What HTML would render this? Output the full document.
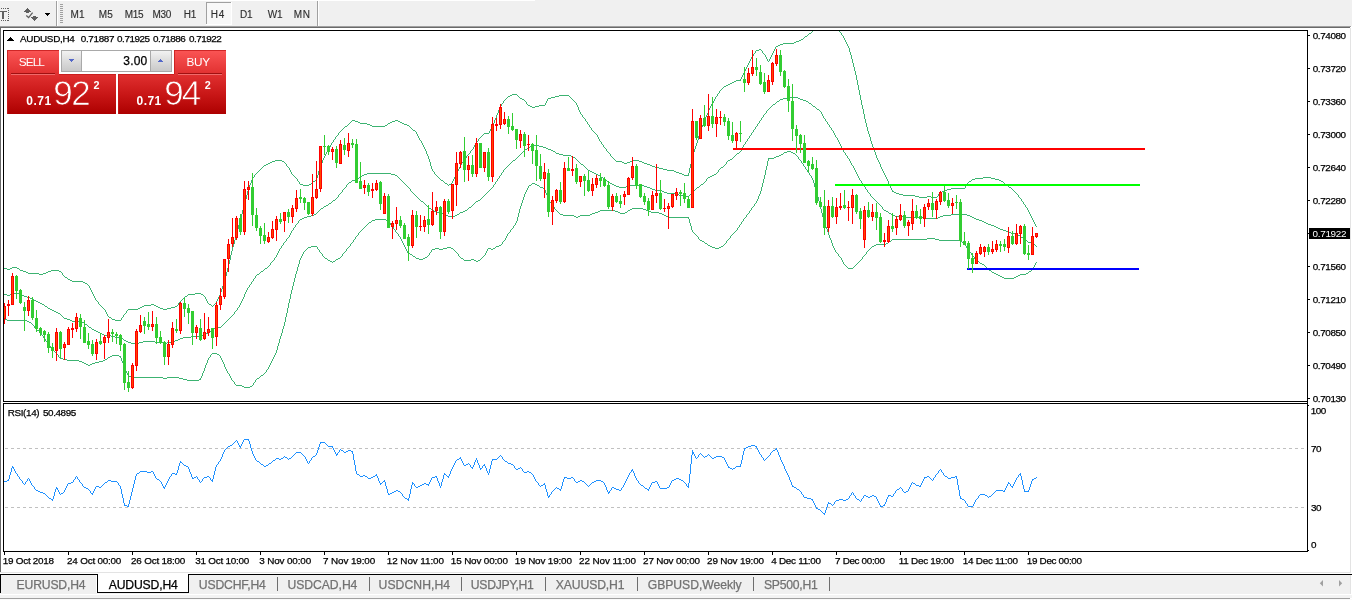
<!DOCTYPE html>
<html><head><meta charset="utf-8"><title>AUDUSD,H4</title>
<style>
*{box-sizing:border-box;margin:0;padding:0}
html,body{width:1352px;height:600px;overflow:hidden;background:#fff}
svg{display:block;position:absolute;left:0;top:0}
svg text{font-family:'Liberation Sans',sans-serif;white-space:pre}
</style></head><body>
<svg width="1352" height="600" viewBox="0 0 1352 600" shape-rendering="crispEdges">
<defs>
<clipPath id="cp"><rect x="4" y="31" width="1303" height="520"/></clipPath>
<linearGradient id="rg" x1="0" y1="50" x2="0" y2="114" gradientUnits="userSpaceOnUse">
<stop offset="0" stop-color="#fb5555"/><stop offset="0.36" stop-color="#e23232"/><stop offset="0.7" stop-color="#c81616"/><stop offset="1" stop-color="#ad0000"/></linearGradient>
<linearGradient id="bt" x1="0" y1="0" x2="0" y2="1"><stop offset="0" stop-color="#f2f2f2"/><stop offset="0.5" stop-color="#dcdcdc"/><stop offset="1" stop-color="#c9c9c9"/></linearGradient>
</defs>
<rect width="1352" height="600" fill="#fff"/>
<!-- toolbar -->
<rect x="0" y="0" width="1352" height="26" fill="#f0f0f0"/>
<rect x="0" y="0" width="535" height="1" fill="#fff"/>
<rect x="0" y="26" width="1351" height="1" fill="#a0a0a0"/>
<rect x="0" y="27" width="1350" height="1" fill="#696969"/>
<rect x="0" y="28" width="1" height="545" fill="#696969"/>
<rect x="1350" y="28" width="1" height="545" fill="#e3e3e3"/>
<rect x="1351" y="28" width="1" height="545" fill="#fff"/>
<rect x="0" y="572" width="1350" height="1" fill="#e3e3e3"/>
<path d="M56 1h1v25h-1zM317 1h1v25h-1z" fill="#a0a0a0"/>
<path d="M57 1h1v25h-1zM318 1h1v25h-1z" fill="#fff"/>
<path d="M60 4h3v1h-3zM60 6h3v1h-3zM60 8h3v1h-3zM60 10h3v1h-3zM60 12h3v1h-3zM60 14h3v1h-3zM60 16h3v1h-3zM60 18h3v1h-3zM60 20h3v1h-3zM60 22h3v1h-3z" fill="#a0a0a0"/>
<rect x="206" y="2" width="26" height="23" fill="#f8f8f8"/>
<path d="M206 2h25v1h-25zM206 2h1v22h-1z" fill="#a0a0a0"/>
<path d="M206 24h26v1h-26zM231 2h1v23h-1z" fill="#fff"/>
<g fill="#606060">
<path d="M0 11h7v1h-7zM2 12h2v7h-2z"/>
<path d="M1 8h1v1h-1zM1 20h1v1h-1zM3 8h1v1h-1zM3 20h1v1h-1zM5 8h1v1h-1zM5 20h1v1h-1zM7 8h1v1h-1zM7 20h1v1h-1zM8 8h1v1h-1zM8 10h1v1h-1zM8 12h1v1h-1zM8 14h1v1h-1zM8 16h1v1h-1zM8 18h1v1h-1zM8 20h1v1h-1z"/>
<path d="M27 8h1v1h-1zM26 9h3v1h-3zM25 10h5v1h-5zM24 11h7v1h-7zM26 12h3v1h-3z"/>
<path d="M33 16h3v1h-3zM31 17h7v1h-7zM32 18h5v1h-5zM33 19h3v1h-3zM34 20h1v1h-1z"/>
</g>
<path d="M26.3 15.6L28.6 17.6L32.6 12.6" fill="none" stroke="#606060" stroke-width="1.3" shape-rendering="auto"/>
<path d="M45 13h5v1h-5zM46 14h3v1h-3zM47 15h1v1h-1z" fill="#000"/>
<!-- chart -->
<g clip-path="url(#cp)">
<path d="M812 31h1v1h-1zM839 31h1v1h-1zM811 32h1v1h-1zM840 32h1v1h-1zM809 33h2v1h-2zM841 33h1v2h-1zM808 34h1v1h-1zM807 35h1v1h-1zM842 35h1v1h-1zM805 36h2v1h-2zM843 36h1v2h-1zM804 37h1v1h-1zM803 38h1v1h-1zM844 38h1v2h-1zM801 39h2v1h-2zM799 40h2v1h-2zM845 40h1v2h-1zM796 41h3v1h-3zM794 42h2v1h-2zM846 42h1v2h-1zM783 43h11v1h-11zM780 44h3v1h-3zM847 44h1v2h-1zM778 45h2v1h-2zM776 46h2v1h-2zM848 46h1v2h-1zM775 47h1v2h-1zM849 48h1v4h-1zM759 49h2v1h-2zM774 49h1v2h-1zM756 50h3v1h-3zM761 50h1v1h-1zM755 51h1v2h-1zM762 51h1v2h-1zM773 51h1v2h-1zM850 52h1v3h-1zM754 53h1v1h-1zM763 53h1v1h-1zM772 53h1v2h-1zM753 54h1v2h-1zM764 54h1v1h-1zM765 55h1v2h-1zM771 55h1v2h-1zM851 55h1v4h-1zM752 56h1v1h-1zM751 57h1v2h-1zM766 57h1v2h-1zM770 57h1v2h-1zM750 59h1v2h-1zM767 59h1v2h-1zM769 59h1v2h-1zM852 59h1v4h-1zM749 61h1v2h-1zM768 61h1v1h-1zM748 63h1v2h-1zM853 63h1v4h-1zM747 65h1v2h-1zM746 67h1v2h-1zM854 67h1v4h-1zM745 69h1v2h-1zM744 71h1v2h-1zM855 71h1v4h-1zM743 73h1v2h-1zM742 75h1v2h-1zM856 75h1v5h-1zM741 77h1v2h-1zM740 79h1v2h-1zM736 80h4v1h-4zM857 80h1v5h-1zM734 81h2v1h-2zM732 82h2v1h-2zM730 83h2v1h-2zM728 84h2v1h-2zM726 85h2v1h-2zM858 85h1v5h-1zM724 86h2v1h-2zM723 87h1v1h-1zM722 88h1v1h-1zM721 89h1v1h-1zM720 90h1v1h-1zM859 90h1v5h-1zM719 91h1v2h-1zM718 93h1v1h-1zM512 94h5v1h-5zM717 94h1v2h-1zM510 95h2v1h-2zM517 95h1v1h-1zM559 95h10v1h-10zM860 95h1v5h-1zM508 96h2v1h-2zM518 96h1v1h-1zM555 96h4v1h-4zM569 96h1v1h-1zM716 96h1v1h-1zM507 97h1v1h-1zM519 97h1v1h-1zM551 97h4v1h-4zM570 97h1v1h-1zM715 97h1v2h-1zM506 98h1v1h-1zM520 98h2v1h-2zM548 98h3v1h-3zM571 98h1v1h-1zM505 99h1v1h-1zM522 99h2v1h-2zM547 99h1v2h-1zM572 99h1v1h-1zM714 99h1v2h-1zM504 100h1v1h-1zM524 100h1v1h-1zM573 100h1v1h-1zM861 100h1v5h-1zM503 101h1v2h-1zM525 101h1v1h-1zM546 101h1v2h-1zM574 101h1v1h-1zM713 101h1v2h-1zM526 102h1v2h-1zM575 102h1v1h-1zM502 103h1v1h-1zM545 103h1v2h-1zM576 103h1v2h-1zM712 103h1v1h-1zM501 104h1v2h-1zM527 104h1v1h-1zM711 104h1v2h-1zM528 105h2v1h-2zM539 105h6v1h-6zM577 105h1v2h-1zM862 105h1v4h-1zM500 106h1v2h-1zM530 106h2v1h-2zM535 106h4v1h-4zM710 106h1v2h-1zM532 107h3v1h-3zM578 107h1v3h-1zM499 108h1v2h-1zM709 108h1v2h-1zM863 109h1v5h-1zM498 110h1v3h-1zM579 110h1v2h-1zM708 110h1v3h-1zM580 112h1v2h-1zM497 113h1v2h-1zM707 113h1v2h-1zM581 114h1v1h-1zM864 114h1v5h-1zM496 115h1v3h-1zM582 115h1v2h-1zM706 115h1v2h-1zM583 117h1v1h-1zM705 117h1v2h-1zM495 118h1v2h-1zM584 118h1v1h-1zM585 119h1v2h-1zM704 119h1v3h-1zM865 119h1v4h-1zM352 120h3v1h-3zM395 120h3v1h-3zM494 120h1v3h-1zM351 121h1v1h-1zM355 121h3v1h-3zM392 121h3v1h-3zM398 121h2v1h-2zM586 121h1v1h-1zM350 122h1v1h-1zM358 122h2v1h-2zM390 122h2v1h-2zM400 122h2v1h-2zM587 122h1v2h-1zM703 122h1v3h-1zM349 123h1v1h-1zM360 123h7v1h-7zM388 123h2v1h-2zM402 123h2v1h-2zM493 123h1v2h-1zM866 123h1v4h-1zM348 124h1v1h-1zM367 124h3v1h-3zM387 124h1v1h-1zM404 124h3v1h-3zM588 124h1v1h-1zM347 125h1v1h-1zM370 125h2v1h-2zM385 125h2v1h-2zM407 125h2v1h-2zM492 125h1v2h-1zM589 125h1v2h-1zM702 125h1v2h-1zM345 126h2v1h-2zM372 126h13v1h-13zM409 126h1v1h-1zM344 127h1v1h-1zM410 127h1v1h-1zM491 127h1v2h-1zM590 127h1v1h-1zM701 127h1v3h-1zM867 127h1v4h-1zM343 128h1v1h-1zM411 128h1v1h-1zM591 128h1v2h-1zM342 129h1v1h-1zM412 129h1v1h-1zM490 129h1v2h-1zM341 130h1v1h-1zM413 130h2v1h-2zM592 130h1v1h-1zM700 130h1v3h-1zM340 131h1v1h-1zM415 131h1v1h-1zM489 131h1v2h-1zM593 131h1v1h-1zM868 131h1v3h-1zM339 132h1v1h-1zM416 132h1v2h-1zM594 132h1v1h-1zM338 133h1v2h-1zM484 133h5v1h-5zM595 133h1v1h-1zM699 133h1v3h-1zM417 134h1v2h-1zM483 134h1v1h-1zM596 134h1v1h-1zM869 134h1v3h-1zM337 135h1v1h-1zM482 135h1v1h-1zM597 135h1v2h-1zM336 136h1v1h-1zM418 136h1v2h-1zM481 136h1v1h-1zM698 136h1v4h-1zM335 137h1v2h-1zM480 137h1v1h-1zM598 137h1v2h-1zM870 137h1v4h-1zM419 138h1v2h-1zM479 138h1v1h-1zM334 139h1v1h-1zM478 139h1v2h-1zM599 139h1v2h-1zM333 140h1v2h-1zM420 140h1v1h-1zM697 140h1v3h-1zM421 141h1v2h-1zM477 141h1v1h-1zM600 141h1v1h-1zM871 141h1v3h-1zM332 142h1v1h-1zM476 142h1v1h-1zM601 142h1v2h-1zM331 143h1v2h-1zM422 143h1v2h-1zM475 143h1v2h-1zM696 143h1v3h-1zM602 144h1v1h-1zM872 144h1v3h-1zM330 145h1v2h-1zM423 145h1v2h-1zM474 145h1v2h-1zM603 145h1v2h-1zM695 146h1v3h-1zM329 147h1v2h-1zM424 147h1v2h-1zM473 147h1v2h-1zM604 147h1v1h-1zM873 147h1v3h-1zM605 148h1v1h-1zM328 149h1v1h-1zM425 149h1v2h-1zM472 149h1v1h-1zM606 149h1v2h-1zM694 149h1v3h-1zM327 150h1v2h-1zM471 150h1v1h-1zM874 150h1v2h-1zM426 151h1v3h-1zM470 151h1v2h-1zM607 151h1v1h-1zM326 152h1v2h-1zM608 152h1v1h-1zM693 152h1v3h-1zM875 152h1v3h-1zM469 153h1v1h-1zM609 153h1v1h-1zM325 154h1v2h-1zM427 154h1v2h-1zM468 154h1v1h-1zM610 154h1v2h-1zM467 155h1v1h-1zM692 155h1v4h-1zM876 155h1v3h-1zM324 156h1v2h-1zM428 156h1v3h-1zM466 156h1v2h-1zM611 156h1v1h-1zM612 157h1v1h-1zM323 158h1v2h-1zM465 158h1v1h-1zM613 158h1v1h-1zM877 158h1v2h-1zM429 159h1v3h-1zM464 159h1v1h-1zM614 159h1v1h-1zM691 159h1v5h-1zM275 160h7v1h-7zM322 160h1v3h-1zM463 160h1v2h-1zM615 160h1v1h-1zM632 160h7v1h-7zM878 160h1v2h-1zM272 161h3v1h-3zM282 161h2v1h-2zM616 161h6v1h-6zM630 161h2v1h-2zM639 161h3v1h-3zM270 162h2v1h-2zM284 162h1v1h-1zM430 162h1v4h-1zM462 162h1v1h-1zM622 162h2v1h-2zM627 162h3v1h-3zM642 162h2v1h-2zM879 162h1v2h-1zM268 163h2v1h-2zM285 163h1v1h-1zM321 163h1v2h-1zM461 163h1v2h-1zM624 163h3v1h-3zM644 163h3v1h-3zM266 164h2v1h-2zM286 164h1v2h-1zM647 164h3v1h-3zM690 164h1v4h-1zM880 164h1v3h-1zM264 165h2v1h-2zM320 165h1v3h-1zM460 165h1v2h-1zM650 165h2v1h-2zM263 166h1v1h-1zM287 166h1v1h-1zM431 166h1v3h-1zM652 166h3v1h-3zM262 167h1v1h-1zM288 167h1v1h-1zM459 167h1v2h-1zM655 167h4v1h-4zM881 167h1v2h-1zM261 168h1v1h-1zM289 168h1v2h-1zM319 168h1v3h-1zM659 168h4v1h-4zM689 168h1v5h-1zM260 169h1v1h-1zM432 169h1v2h-1zM458 169h1v2h-1zM663 169h4v1h-4zM882 169h1v2h-1zM259 170h1v1h-1zM290 170h1v2h-1zM667 170h7v1h-7zM258 171h1v1h-1zM318 171h1v4h-1zM433 171h1v1h-1zM457 171h1v2h-1zM674 171h2v1h-2zM883 171h1v2h-1zM257 172h1v1h-1zM291 172h1v2h-1zM434 172h1v2h-1zM676 172h3v1h-3zM256 173h1v1h-1zM456 173h1v2h-1zM679 173h3v1h-3zM688 173h1v3h-1zM884 173h1v2h-1zM255 174h1v1h-1zM292 174h1v1h-1zM435 174h1v1h-1zM682 174h2v1h-2zM254 175h1v2h-1zM293 175h1v1h-1zM317 175h1v3h-1zM436 175h1v1h-1zM455 175h1v2h-1zM684 175h4v1h-4zM885 175h1v2h-1zM294 176h1v1h-1zM437 176h1v1h-1zM253 177h1v1h-1zM295 177h1v1h-1zM438 177h1v1h-1zM454 177h1v2h-1zM886 177h1v2h-1zM983 177h8v1h-8zM252 178h1v2h-1zM296 178h1v1h-1zM316 178h1v2h-1zM439 178h1v1h-1zM975 178h8v1h-8zM991 178h4v1h-4zM297 179h1v2h-1zM440 179h1v1h-1zM453 179h1v2h-1zM887 179h1v2h-1zM972 179h3v1h-3zM995 179h4v1h-4zM251 180h1v3h-1zM315 180h1v1h-1zM441 180h2v1h-2zM971 180h1v1h-1zM999 180h2v1h-2zM298 181h1v1h-1zM313 181h2v1h-2zM443 181h1v1h-1zM452 181h1v2h-1zM888 181h1v3h-1zM969 181h2v1h-2zM1001 181h2v1h-2zM299 182h1v2h-1zM312 182h1v1h-1zM444 182h1v1h-1zM968 182h1v1h-1zM1003 182h1v1h-1zM250 183h1v2h-1zM311 183h1v1h-1zM445 183h2v1h-2zM451 183h1v1h-1zM967 183h1v2h-1zM1004 183h1v1h-1zM300 184h3v1h-3zM309 184h2v1h-2zM447 184h1v1h-1zM449 184h2v1h-2zM889 184h1v2h-1zM1005 184h2v1h-2zM249 185h1v3h-1zM303 185h6v1h-6zM448 185h1v1h-1zM966 185h1v1h-1zM1007 185h1v1h-1zM890 186h1v2h-1zM965 186h1v2h-1zM1008 186h1v1h-1zM1009 187h2v1h-2zM248 188h1v3h-1zM891 188h1v2h-1zM951 188h14v1h-14zM1011 188h1v1h-1zM947 189h4v1h-4zM1012 189h1v1h-1zM892 190h1v2h-1zM944 190h3v1h-3zM1013 190h1v1h-1zM247 191h1v4h-1zM893 191h1v1h-1zM942 191h2v1h-2zM1014 191h1v1h-1zM894 192h2v1h-2zM940 192h2v1h-2zM1015 192h1v1h-1zM896 193h3v1h-3zM939 193h1v1h-1zM1016 193h1v1h-1zM899 194h4v1h-4zM938 194h1v2h-1zM1017 194h1v1h-1zM246 195h1v4h-1zM903 195h12v1h-12zM1018 195h1v2h-1zM915 196h4v1h-4zM927 196h4v1h-4zM937 196h1v1h-1zM919 197h8v1h-8zM931 197h6v1h-6zM1019 197h1v1h-1zM1020 198h1v1h-1zM245 199h1v4h-1zM1021 199h1v2h-1zM1022 201h1v1h-1zM1023 202h1v2h-1zM244 203h1v3h-1zM1024 204h1v1h-1zM1025 205h1v2h-1zM243 206h1v4h-1zM1026 207h1v1h-1zM1027 208h1v2h-1zM242 210h1v4h-1zM1028 210h1v2h-1zM1029 212h1v2h-1zM241 214h1v4h-1zM1030 214h1v2h-1zM1031 216h1v2h-1zM240 218h1v3h-1zM1032 218h1v2h-1zM1033 220h1v2h-1zM239 221h1v4h-1zM1034 222h1v2h-1zM1035 224h1v2h-1zM238 225h1v4h-1zM1036 226h1v1h-1zM237 229h1v4h-1zM236 233h1v4h-1zM235 237h1v3h-1zM234 240h1v4h-1zM233 244h1v3h-1zM232 247h1v4h-1zM231 251h1v4h-1zM230 255h1v5h-1zM229 260h1v4h-1zM228 264h1v4h-1zM12 267h5v1h-5zM4 268h3v1h-3zM10 268h2v1h-2zM17 268h2v1h-2zM227 268h1v4h-1zM7 269h3v1h-3zM19 269h1v1h-1zM20 270h3v1h-3zM51 270h8v1h-8zM23 271h3v1h-3zM48 271h3v1h-3zM59 271h2v1h-2zM26 272h2v1h-2zM46 272h2v1h-2zM61 272h1v1h-1zM226 272h1v4h-1zM28 273h11v1h-11zM43 273h3v1h-3zM62 273h1v2h-1zM39 274h4v1h-4zM63 275h1v1h-1zM64 276h1v1h-1zM225 276h1v4h-1zM65 277h2v1h-2zM67 278h1v1h-1zM68 279h2v1h-2zM70 280h2v1h-2zM224 280h1v3h-1zM72 281h11v1h-11zM83 282h2v1h-2zM85 283h2v1h-2zM223 283h1v3h-1zM87 284h1v1h-1zM88 285h1v1h-1zM89 286h1v2h-1zM222 286h1v3h-1zM90 288h1v2h-1zM221 289h1v3h-1zM91 290h1v2h-1zM92 292h1v2h-1zM220 292h1v3h-1zM195 293h6v1h-6zM93 294h1v2h-1zM188 294h7v1h-7zM201 294h2v1h-2zM187 295h1v1h-1zM203 295h1v1h-1zM219 295h1v2h-1zM94 296h1v2h-1zM185 296h2v1h-2zM204 296h1v1h-1zM184 297h1v1h-1zM205 297h1v2h-1zM218 297h1v2h-1zM95 298h1v2h-1zM183 298h1v1h-1zM182 299h1v1h-1zM206 299h1v2h-1zM217 299h1v2h-1zM96 300h1v1h-1zM181 300h1v1h-1zM97 301h1v1h-1zM180 301h1v1h-1zM207 301h1v2h-1zM216 301h1v2h-1zM98 302h1v2h-1zM179 302h1v1h-1zM178 303h1v2h-1zM208 303h1v1h-1zM215 303h1v1h-1zM99 304h1v1h-1zM151 304h3v1h-3zM209 304h2v1h-2zM214 304h1v1h-1zM100 305h1v1h-1zM144 305h7v1h-7zM154 305h2v1h-2zM177 305h1v1h-1zM211 305h1v1h-1zM213 305h1v1h-1zM101 306h1v1h-1zM142 306h2v1h-2zM156 306h2v1h-2zM175 306h2v1h-2zM212 306h1v1h-1zM102 307h1v1h-1zM140 307h2v1h-2zM158 307h2v1h-2zM171 307h4v1h-4zM103 308h1v1h-1zM138 308h2v1h-2zM160 308h3v1h-3zM167 308h4v1h-4zM104 309h1v1h-1zM128 309h10v1h-10zM163 309h4v1h-4zM105 310h1v2h-1zM127 310h1v1h-1zM126 311h1v2h-1zM106 312h1v2h-1zM125 313h1v1h-1zM107 314h1v2h-1zM124 314h1v1h-1zM123 315h1v2h-1zM108 316h1v1h-1zM109 317h2v1h-2zM122 317h1v1h-1zM111 318h1v1h-1zM121 318h1v2h-1zM112 319h3v1h-3zM115 320h6v1h-6z" fill="#3cb371"/>
<path d="M787 97h11v1h-11zM783 98h4v1h-4zM798 98h2v1h-2zM780 99h3v1h-3zM800 99h3v1h-3zM779 100h1v1h-1zM803 100h3v1h-3zM777 101h2v1h-2zM806 101h2v1h-2zM776 102h1v1h-1zM808 102h1v1h-1zM775 103h1v1h-1zM809 103h2v1h-2zM773 104h2v1h-2zM811 104h1v1h-1zM772 105h1v1h-1zM812 105h1v1h-1zM771 106h1v1h-1zM813 106h2v1h-2zM770 107h1v1h-1zM815 107h1v1h-1zM769 108h1v1h-1zM816 108h1v1h-1zM768 109h1v1h-1zM817 109h2v1h-2zM767 110h1v1h-1zM819 110h1v1h-1zM766 111h1v2h-1zM820 111h1v1h-1zM821 112h1v2h-1zM765 113h1v1h-1zM764 114h1v1h-1zM822 114h1v2h-1zM763 115h1v2h-1zM823 116h1v2h-1zM762 117h1v1h-1zM761 118h1v2h-1zM824 118h1v1h-1zM825 119h1v2h-1zM760 120h1v1h-1zM759 121h1v2h-1zM826 121h1v1h-1zM827 122h1v2h-1zM758 123h1v1h-1zM757 124h1v2h-1zM828 124h1v1h-1zM829 125h1v2h-1zM756 126h1v1h-1zM755 127h1v2h-1zM830 127h1v1h-1zM831 128h1v2h-1zM754 129h1v1h-1zM753 130h1v2h-1zM832 130h1v1h-1zM833 131h1v2h-1zM752 132h1v1h-1zM751 133h1v2h-1zM834 133h1v2h-1zM750 135h1v1h-1zM835 135h1v2h-1zM749 136h1v2h-1zM836 137h1v1h-1zM748 138h1v1h-1zM837 138h1v2h-1zM747 139h1v2h-1zM838 140h1v2h-1zM746 141h1v1h-1zM745 142h1v2h-1zM839 142h1v2h-1zM744 144h1v1h-1zM840 144h1v2h-1zM532 145h7v1h-7zM743 145h1v2h-1zM530 146h2v1h-2zM539 146h4v1h-4zM841 146h1v2h-1zM528 147h2v1h-2zM543 147h3v1h-3zM742 147h1v2h-1zM527 148h1v1h-1zM546 148h2v1h-2zM842 148h1v2h-1zM525 149h2v1h-2zM548 149h3v1h-3zM741 149h1v2h-1zM524 150h1v1h-1zM551 150h2v1h-2zM843 150h1v2h-1zM523 151h1v1h-1zM553 151h2v1h-2zM740 151h1v1h-1zM522 152h1v1h-1zM555 152h1v1h-1zM739 152h1v1h-1zM844 152h1v1h-1zM521 153h1v1h-1zM556 153h3v1h-3zM737 153h2v1h-2zM845 153h1v2h-1zM520 154h1v1h-1zM559 154h4v1h-4zM736 154h1v1h-1zM519 155h1v1h-1zM563 155h8v1h-8zM735 155h1v1h-1zM846 155h1v1h-1zM518 156h1v1h-1zM571 156h2v1h-2zM734 156h1v1h-1zM847 156h1v2h-1zM517 157h1v1h-1zM573 157h2v1h-2zM733 157h1v1h-1zM516 158h1v1h-1zM575 158h1v1h-1zM732 158h1v1h-1zM848 158h1v1h-1zM515 159h1v1h-1zM576 159h1v1h-1zM730 159h2v1h-2zM849 159h1v2h-1zM513 160h2v1h-2zM577 160h1v1h-1zM728 160h2v1h-2zM512 161h1v1h-1zM578 161h1v1h-1zM727 161h1v1h-1zM850 161h1v2h-1zM511 162h1v1h-1zM579 162h1v1h-1zM726 162h1v2h-1zM510 163h1v1h-1zM580 163h1v1h-1zM851 163h1v2h-1zM509 164h1v1h-1zM581 164h2v1h-2zM725 164h1v1h-1zM508 165h1v1h-1zM583 165h1v1h-1zM724 165h1v1h-1zM852 165h1v1h-1zM507 166h1v1h-1zM584 166h1v1h-1zM723 166h1v1h-1zM853 166h1v2h-1zM506 167h1v1h-1zM585 167h1v1h-1zM721 167h2v1h-2zM505 168h1v1h-1zM586 168h1v1h-1zM720 168h1v1h-1zM854 168h1v2h-1zM504 169h1v1h-1zM587 169h1v1h-1zM719 169h1v1h-1zM503 170h1v2h-1zM588 170h2v1h-2zM718 170h1v2h-1zM855 170h1v2h-1zM590 171h2v1h-2zM502 172h1v1h-1zM592 172h2v1h-2zM717 172h1v1h-1zM856 172h1v2h-1zM367 173h24v1h-24zM501 173h1v2h-1zM594 173h2v1h-2zM716 173h1v1h-1zM364 174h3v1h-3zM391 174h4v1h-4zM596 174h2v1h-2zM714 174h2v1h-2zM857 174h1v2h-1zM362 175h2v1h-2zM395 175h2v1h-2zM500 175h1v1h-1zM598 175h2v1h-2zM712 175h2v1h-2zM360 176h2v1h-2zM397 176h1v1h-1zM499 176h1v2h-1zM600 176h1v1h-1zM710 176h2v1h-2zM858 176h1v2h-1zM359 177h1v1h-1zM398 177h1v1h-1zM601 177h2v1h-2zM708 177h2v1h-2zM357 178h2v1h-2zM399 178h1v1h-1zM498 178h1v1h-1zM603 178h1v1h-1zM707 178h1v1h-1zM859 178h1v2h-1zM355 179h2v1h-2zM400 179h1v1h-1zM497 179h1v2h-1zM604 179h1v1h-1zM706 179h1v2h-1zM352 180h3v1h-3zM401 180h1v1h-1zM605 180h2v1h-2zM860 180h1v1h-1zM351 181h1v1h-1zM402 181h1v1h-1zM496 181h1v1h-1zM607 181h1v1h-1zM705 181h1v1h-1zM861 181h1v2h-1zM349 182h2v1h-2zM403 182h1v1h-1zM495 182h1v2h-1zM608 182h2v1h-2zM704 182h1v1h-1zM348 183h1v1h-1zM404 183h1v1h-1zM610 183h2v1h-2zM703 183h1v1h-1zM862 183h1v1h-1zM347 184h1v1h-1zM405 184h1v1h-1zM494 184h1v1h-1zM612 184h2v1h-2zM639 184h3v1h-3zM701 184h2v1h-2zM863 184h1v2h-1zM346 185h1v2h-1zM406 185h1v1h-1zM493 185h1v2h-1zM614 185h2v1h-2zM628 185h11v1h-11zM642 185h2v1h-2zM700 185h1v1h-1zM407 186h1v1h-1zM616 186h3v1h-3zM626 186h2v1h-2zM644 186h3v1h-3zM699 186h1v1h-1zM864 186h1v1h-1zM345 187h1v1h-1zM408 187h1v1h-1zM492 187h1v1h-1zM619 187h7v1h-7zM647 187h3v1h-3zM697 187h2v1h-2zM865 187h1v2h-1zM344 188h1v1h-1zM409 188h1v1h-1zM491 188h1v1h-1zM650 188h2v1h-2zM696 188h1v1h-1zM343 189h1v1h-1zM410 189h1v2h-1zM490 189h1v1h-1zM652 189h3v1h-3zM695 189h1v1h-1zM866 189h1v1h-1zM342 190h1v2h-1zM489 190h1v1h-1zM655 190h7v1h-7zM694 190h1v1h-1zM867 190h1v2h-1zM411 191h1v1h-1zM488 191h1v1h-1zM662 191h2v1h-2zM693 191h1v1h-1zM341 192h1v1h-1zM412 192h1v1h-1zM487 192h1v1h-1zM664 192h3v1h-3zM692 192h1v1h-1zM868 192h1v1h-1zM340 193h1v1h-1zM413 193h1v1h-1zM486 193h1v1h-1zM667 193h8v1h-8zM691 193h1v1h-1zM869 193h1v1h-1zM339 194h1v1h-1zM414 194h1v1h-1zM485 194h1v1h-1zM675 194h4v1h-4zM690 194h1v1h-1zM870 194h1v2h-1zM338 195h1v2h-1zM415 195h1v1h-1zM484 195h1v1h-1zM679 195h4v1h-4zM689 195h1v1h-1zM416 196h1v1h-1zM483 196h1v1h-1zM683 196h6v1h-6zM871 196h1v1h-1zM337 197h1v1h-1zM417 197h1v1h-1zM482 197h1v1h-1zM872 197h1v1h-1zM336 198h1v1h-1zM418 198h1v1h-1zM481 198h1v1h-1zM873 198h1v1h-1zM335 199h1v1h-1zM419 199h1v1h-1zM480 199h1v1h-1zM874 199h1v1h-1zM333 200h2v1h-2zM420 200h1v1h-1zM478 200h2v1h-2zM875 200h1v1h-1zM332 201h1v1h-1zM421 201h2v1h-2zM476 201h2v1h-2zM876 201h1v1h-1zM331 202h1v1h-1zM423 202h1v1h-1zM475 202h1v1h-1zM877 202h1v1h-1zM329 203h2v1h-2zM424 203h1v1h-1zM474 203h1v1h-1zM878 203h1v1h-1zM328 204h1v1h-1zM425 204h1v1h-1zM473 204h1v1h-1zM879 204h1v1h-1zM326 205h2v1h-2zM426 205h1v1h-1zM472 205h1v1h-1zM880 205h1v1h-1zM324 206h2v1h-2zM427 206h1v1h-1zM471 206h1v1h-1zM881 206h1v1h-1zM323 207h1v1h-1zM428 207h1v1h-1zM469 207h2v1h-2zM882 207h1v2h-1zM321 208h2v1h-2zM429 208h2v1h-2zM468 208h1v1h-1zM320 209h1v1h-1zM431 209h1v1h-1zM467 209h1v1h-1zM883 209h1v1h-1zM319 210h1v1h-1zM432 210h2v1h-2zM465 210h2v1h-2zM884 210h2v1h-2zM318 211h1v1h-1zM434 211h2v1h-2zM463 211h2v1h-2zM886 211h2v1h-2zM317 212h1v1h-1zM436 212h3v1h-3zM460 212h3v1h-3zM888 212h1v1h-1zM316 213h1v1h-1zM439 213h4v1h-4zM459 213h1v1h-1zM889 213h2v1h-2zM314 214h2v1h-2zM443 214h3v1h-3zM457 214h2v1h-2zM891 214h1v1h-1zM951 214h16v1h-16zM311 215h3v1h-3zM446 215h2v1h-2zM455 215h2v1h-2zM892 215h3v1h-3zM943 215h8v1h-8zM967 215h3v1h-3zM307 216h4v1h-4zM448 216h7v1h-7zM895 216h8v1h-8zM940 216h3v1h-3zM970 216h2v1h-2zM304 217h3v1h-3zM903 217h20v1h-20zM938 217h2v1h-2zM972 217h2v1h-2zM302 218h2v1h-2zM923 218h15v1h-15zM974 218h2v1h-2zM300 219h2v1h-2zM976 219h3v1h-3zM299 220h1v1h-1zM979 220h3v1h-3zM298 221h1v2h-1zM982 221h2v1h-2zM984 222h2v1h-2zM297 223h1v1h-1zM986 223h2v1h-2zM296 224h1v1h-1zM988 224h3v1h-3zM295 225h1v2h-1zM991 225h3v1h-3zM994 226h2v1h-2zM294 227h1v1h-1zM996 227h2v1h-2zM293 228h1v2h-1zM998 228h2v1h-2zM1000 229h3v1h-3zM292 230h1v1h-1zM1003 230h3v1h-3zM291 231h1v2h-1zM1006 231h2v1h-2zM1008 232h3v1h-3zM290 233h1v2h-1zM1011 233h4v1h-4zM1015 234h3v1h-3zM289 235h1v2h-1zM1018 235h2v1h-2zM1020 236h1v1h-1zM288 237h1v1h-1zM1021 237h2v1h-2zM287 238h1v1h-1zM1023 238h1v1h-1zM286 239h1v2h-1zM1024 239h1v1h-1zM1025 240h2v1h-2zM285 241h1v1h-1zM1027 241h1v1h-1zM284 242h1v1h-1zM1028 242h3v1h-3zM283 243h1v2h-1zM1031 243h2v1h-2zM1033 244h2v1h-2zM282 245h1v1h-1zM1035 245h1v1h-1zM281 246h1v2h-1zM1036 246h1v1h-1zM280 248h1v1h-1zM279 249h1v2h-1zM278 251h1v2h-1zM277 253h1v2h-1zM276 255h1v2h-1zM275 257h1v1h-1zM274 258h1v2h-1zM273 260h1v1h-1zM272 261h1v1h-1zM271 262h1v1h-1zM270 263h1v2h-1zM269 265h1v1h-1zM268 266h1v1h-1zM267 267h1v1h-1zM265 268h2v1h-2zM264 269h1v1h-1zM263 270h1v1h-1zM261 271h2v1h-2zM260 272h1v1h-1zM259 273h1v1h-1zM257 274h2v1h-2zM256 275h1v1h-1zM255 276h1v2h-1zM254 278h1v1h-1zM253 279h1v2h-1zM252 281h1v1h-1zM251 282h1v2h-1zM250 284h1v1h-1zM249 285h1v2h-1zM248 287h1v1h-1zM247 288h1v2h-1zM246 290h1v2h-1zM245 292h1v2h-1zM12 293h7v1h-7zM4 294h3v1h-3zM10 294h2v1h-2zM19 294h3v1h-3zM244 294h1v3h-1zM7 295h3v1h-3zM22 295h2v1h-2zM24 296h3v1h-3zM27 297h3v1h-3zM243 297h1v2h-1zM30 298h2v1h-2zM32 299h2v1h-2zM242 299h1v2h-1zM34 300h2v1h-2zM36 301h2v1h-2zM241 301h1v2h-1zM38 302h2v1h-2zM40 303h2v1h-2zM240 303h1v2h-1zM42 304h2v1h-2zM44 305h1v1h-1zM239 305h1v2h-1zM45 306h2v1h-2zM47 307h1v1h-1zM238 307h1v1h-1zM48 308h2v1h-2zM237 308h1v2h-1zM50 309h2v1h-2zM52 310h2v1h-2zM236 310h1v1h-1zM54 311h2v1h-2zM235 311h1v1h-1zM56 312h2v1h-2zM234 312h1v2h-1zM58 313h2v1h-2zM60 314h1v1h-1zM233 314h1v1h-1zM61 315h1v1h-1zM232 315h1v1h-1zM62 316h1v1h-1zM231 316h1v1h-1zM63 317h1v1h-1zM230 317h1v1h-1zM64 318h3v1h-3zM229 318h1v1h-1zM67 319h3v1h-3zM228 319h1v1h-1zM70 320h2v1h-2zM227 320h1v1h-1zM72 321h10v1h-10zM226 321h1v1h-1zM82 322h2v1h-2zM225 322h1v1h-1zM84 323h1v1h-1zM224 323h1v1h-1zM85 324h2v1h-2zM223 324h1v1h-1zM87 325h1v1h-1zM222 325h1v1h-1zM88 326h1v1h-1zM221 326h1v1h-1zM89 327h2v1h-2zM216 327h5v1h-5zM91 328h1v1h-1zM214 328h2v1h-2zM92 329h2v1h-2zM212 329h2v1h-2zM94 330h2v1h-2zM211 330h1v1h-1zM96 331h2v1h-2zM209 331h2v1h-2zM98 332h2v1h-2zM208 332h1v1h-1zM100 333h2v1h-2zM206 333h2v1h-2zM102 334h2v1h-2zM204 334h2v1h-2zM104 335h7v1h-7zM202 335h2v1h-2zM111 336h4v1h-4zM191 336h11v1h-11zM115 337h6v1h-6zM183 337h8v1h-8zM121 338h2v1h-2zM180 338h3v1h-3zM123 339h1v1h-1zM178 339h2v1h-2zM124 340h2v1h-2zM175 340h3v1h-3zM126 341h2v1h-2zM143 341h12v1h-12zM171 341h4v1h-4zM128 342h3v1h-3zM139 342h4v1h-4zM155 342h8v1h-8zM167 342h4v1h-4zM131 343h8v1h-8zM163 343h4v1h-4z" fill="#3cb371"/>
<path d="M787 151h4v1h-4zM784 152h3v1h-3zM791 152h2v1h-2zM783 153h1v1h-1zM793 153h2v1h-2zM781 154h2v1h-2zM795 154h1v1h-1zM779 155h2v1h-2zM796 155h1v1h-1zM776 156h3v1h-3zM797 156h1v1h-1zM774 157h2v1h-2zM798 157h1v2h-1zM768 158h1v3h-1zM769 158h5v1h-5zM799 159h1v1h-1zM800 160h1v1h-1zM767 161h1v5h-1zM801 161h1v2h-1zM802 163h1v1h-1zM803 164h1v2h-1zM766 166h1v4h-1zM804 166h1v1h-1zM805 167h1v2h-1zM806 169h1v1h-1zM765 170h1v5h-1zM807 170h1v2h-1zM808 172h1v1h-1zM809 173h1v2h-1zM764 175h1v4h-1zM810 175h1v1h-1zM811 176h1v2h-1zM812 178h1v2h-1zM763 179h1v4h-1zM813 180h1v3h-1zM532 183h3v1h-3zM762 183h1v4h-1zM814 183h1v4h-1zM531 184h1v1h-1zM535 184h2v1h-2zM529 185h2v1h-2zM537 185h2v1h-2zM528 186h1v2h-1zM539 186h1v1h-1zM540 187h3v1h-3zM761 187h1v4h-1zM815 187h1v3h-1zM527 188h1v2h-1zM543 188h1v1h-1zM544 188h1v2h-1zM526 190h1v2h-1zM545 190h1v3h-1zM816 190h1v3h-1zM760 191h1v3h-1zM525 192h1v2h-1zM546 193h1v2h-1zM817 193h1v4h-1zM524 194h1v3h-1zM759 194h1v2h-1zM547 195h1v3h-1zM758 196h1v3h-1zM523 197h1v3h-1zM818 197h1v4h-1zM548 198h1v2h-1zM757 199h1v2h-1zM522 200h1v3h-1zM549 200h1v2h-1zM756 201h1v2h-1zM819 201h1v4h-1zM550 202h1v1h-1zM521 203h1v3h-1zM551 203h1v2h-1zM755 203h1v1h-1zM754 204h1v2h-1zM552 205h1v1h-1zM820 205h1v4h-1zM520 206h1v3h-1zM553 206h1v1h-1zM753 206h1v1h-1zM554 207h1v2h-1zM752 207h1v1h-1zM632 208h11v1h-11zM751 208h1v2h-1zM519 209h1v4h-1zM555 209h1v1h-1zM630 209h2v1h-2zM643 209h3v1h-3zM821 209h1v4h-1zM556 210h1v1h-1zM600 210h15v1h-15zM628 210h2v1h-2zM646 210h2v1h-2zM750 210h1v1h-1zM557 211h1v1h-1zM598 211h2v1h-2zM615 211h3v1h-3zM627 211h1v1h-1zM648 211h3v1h-3zM749 211h1v2h-1zM558 212h1v1h-1zM595 212h3v1h-3zM618 212h2v1h-2zM625 212h2v1h-2zM651 212h8v1h-8zM518 213h1v4h-1zM559 213h1v1h-1zM592 213h3v1h-3zM620 213h5v1h-5zM659 213h3v1h-3zM748 213h1v1h-1zM822 213h1v4h-1zM560 214h3v1h-3zM590 214h2v1h-2zM662 214h2v1h-2zM747 214h1v1h-1zM563 215h11v1h-11zM580 215h10v1h-10zM664 215h2v1h-2zM746 215h1v2h-1zM574 216h2v1h-2zM578 216h2v1h-2zM666 216h2v1h-2zM517 217h1v4h-1zM576 217h2v1h-2zM668 217h20v1h-20zM688 217h1v2h-1zM745 217h1v1h-1zM823 217h1v4h-1zM744 218h1v1h-1zM375 219h11v1h-11zM689 219h1v4h-1zM743 219h1v2h-1zM372 220h3v1h-3zM386 220h2v1h-2zM371 221h1v1h-1zM388 221h1v1h-1zM516 221h1v2h-1zM742 221h1v1h-1zM824 221h1v3h-1zM369 222h2v1h-2zM389 222h1v1h-1zM741 222h1v2h-1zM368 223h1v1h-1zM390 223h1v2h-1zM515 223h1v2h-1zM690 223h1v3h-1zM367 224h1v1h-1zM740 224h1v1h-1zM825 224h1v3h-1zM366 225h1v1h-1zM391 225h1v1h-1zM514 225h1v1h-1zM739 225h1v2h-1zM365 226h1v1h-1zM392 226h1v1h-1zM513 226h1v2h-1zM691 226h1v4h-1zM364 227h1v1h-1zM393 227h1v2h-1zM738 227h1v1h-1zM826 227h1v2h-1zM363 228h1v1h-1zM512 228h1v1h-1zM737 228h1v2h-1zM362 229h1v1h-1zM394 229h1v1h-1zM511 229h1v1h-1zM827 229h1v3h-1zM361 230h1v1h-1zM395 230h1v2h-1zM510 230h1v2h-1zM692 230h1v2h-1zM736 230h1v1h-1zM360 231h1v1h-1zM735 231h1v1h-1zM359 232h1v1h-1zM396 232h1v1h-1zM509 232h1v1h-1zM693 232h1v1h-1zM734 232h1v1h-1zM828 232h1v3h-1zM358 233h1v2h-1zM397 233h1v1h-1zM508 233h1v1h-1zM694 233h1v1h-1zM733 233h1v1h-1zM398 234h1v2h-1zM507 234h1v2h-1zM695 234h1v1h-1zM732 234h1v1h-1zM357 235h1v1h-1zM696 235h1v1h-1zM731 235h1v1h-1zM829 235h1v3h-1zM356 236h1v1h-1zM399 236h1v1h-1zM506 236h1v2h-1zM697 236h1v1h-1zM730 236h1v2h-1zM355 237h1v2h-1zM400 237h1v2h-1zM698 237h1v2h-1zM505 238h1v2h-1zM729 238h1v1h-1zM830 238h1v2h-1zM927 238h8v1h-8zM354 239h1v1h-1zM401 239h1v2h-1zM699 239h1v1h-1zM728 239h1v1h-1zM892 239h35v1h-35zM935 239h4v1h-4zM353 240h1v2h-1zM504 240h1v1h-1zM700 240h2v1h-2zM727 240h1v1h-1zM831 240h1v3h-1zM891 240h1v1h-1zM939 240h22v1h-22zM402 241h1v2h-1zM503 241h1v1h-1zM702 241h2v1h-2zM726 241h1v2h-1zM889 241h2v1h-2zM961 241h1v1h-1zM352 242h1v1h-1zM502 242h1v2h-1zM704 242h1v1h-1zM888 242h1v1h-1zM962 242h1v1h-1zM351 243h1v1h-1zM403 243h1v2h-1zM705 243h2v1h-2zM725 243h1v1h-1zM832 243h1v3h-1zM886 243h2v1h-2zM963 243h1v1h-1zM350 244h1v2h-1zM501 244h1v1h-1zM707 244h1v1h-1zM724 244h1v1h-1zM876 244h10v1h-10zM964 244h1v1h-1zM404 245h1v2h-1zM499 245h2v1h-2zM708 245h2v1h-2zM723 245h1v1h-1zM874 245h2v1h-2zM965 245h1v1h-1zM311 246h6v1h-6zM349 246h1v1h-1zM496 246h3v1h-3zM710 246h2v1h-2zM721 246h2v1h-2zM833 246h1v2h-1zM872 246h2v1h-2zM966 246h1v2h-1zM308 247h3v1h-3zM317 247h1v2h-1zM348 247h1v1h-1zM405 247h1v2h-1zM447 247h4v1h-4zM495 247h1v1h-1zM712 247h3v1h-3zM719 247h2v1h-2zM871 247h1v1h-1zM307 248h1v1h-1zM347 248h1v1h-1zM435 248h4v1h-4zM443 248h4v1h-4zM451 248h2v1h-2zM488 248h3v1h-3zM493 248h2v1h-2zM715 248h4v1h-4zM834 248h1v2h-1zM870 248h1v1h-1zM967 248h1v1h-1zM306 249h1v1h-1zM318 249h1v1h-1zM346 249h1v2h-1zM406 249h1v2h-1zM432 249h3v1h-3zM439 249h4v1h-4zM453 249h1v1h-1zM487 249h1v2h-1zM491 249h2v1h-2zM869 249h1v1h-1zM968 249h1v1h-1zM305 250h1v1h-1zM319 250h1v2h-1zM431 250h1v2h-1zM454 250h1v1h-1zM835 250h1v2h-1zM868 250h1v1h-1zM969 250h1v2h-1zM304 251h1v1h-1zM345 251h1v1h-1zM407 251h1v2h-1zM455 251h1v1h-1zM486 251h1v2h-1zM867 251h1v1h-1zM303 252h1v2h-1zM320 252h1v1h-1zM344 252h1v1h-1zM430 252h1v1h-1zM456 252h1v1h-1zM836 252h1v1h-1zM866 252h1v2h-1zM970 252h1v1h-1zM321 253h1v1h-1zM343 253h1v1h-1zM408 253h2v1h-2zM429 253h1v2h-1zM457 253h1v1h-1zM485 253h1v2h-1zM837 253h1v1h-1zM971 253h1v2h-1zM302 254h1v2h-1zM322 254h1v2h-1zM342 254h1v2h-1zM410 254h2v1h-2zM458 254h1v2h-1zM838 254h1v2h-1zM865 254h1v1h-1zM412 255h1v1h-1zM428 255h1v1h-1zM484 255h1v1h-1zM864 255h1v1h-1zM972 255h1v1h-1zM301 256h1v2h-1zM323 256h1v1h-1zM341 256h1v1h-1zM413 256h2v1h-2zM427 256h1v1h-1zM459 256h1v1h-1zM483 256h1v1h-1zM839 256h1v1h-1zM863 256h1v1h-1zM973 256h1v1h-1zM324 257h1v1h-1zM340 257h1v1h-1zM415 257h1v1h-1zM425 257h2v1h-2zM460 257h1v1h-1zM482 257h1v1h-1zM840 257h1v1h-1zM862 257h1v2h-1zM974 257h1v2h-1zM300 258h1v2h-1zM325 258h2v1h-2zM338 258h2v1h-2zM416 258h3v1h-3zM423 258h2v1h-2zM461 258h2v1h-2zM481 258h1v1h-1zM841 258h1v2h-1zM327 259h1v1h-1zM336 259h2v1h-2zM419 259h4v1h-4zM463 259h1v1h-1zM471 259h3v1h-3zM480 259h1v1h-1zM861 259h1v1h-1zM975 259h1v1h-1zM299 260h1v4h-1zM328 260h2v1h-2zM335 260h1v1h-1zM464 260h7v1h-7zM474 260h2v1h-2zM478 260h2v1h-2zM842 260h1v2h-1zM860 260h1v1h-1zM976 260h1v1h-1zM330 261h2v1h-2zM333 261h2v1h-2zM476 261h2v1h-2zM859 261h1v1h-1zM977 261h2v1h-2zM332 262h1v1h-1zM843 262h1v2h-1zM858 262h1v1h-1zM979 262h1v1h-1zM1036 262h1v1h-1zM857 263h1v1h-1zM980 263h2v1h-2zM1035 263h1v2h-1zM298 264h1v3h-1zM844 264h1v1h-1zM856 264h1v1h-1zM982 264h2v1h-2zM845 265h1v1h-1zM855 265h1v1h-1zM984 265h1v1h-1zM1034 265h1v2h-1zM846 266h1v1h-1zM854 266h1v1h-1zM985 266h1v1h-1zM297 267h1v4h-1zM847 267h1v1h-1zM853 267h1v1h-1zM986 267h1v1h-1zM1033 267h1v2h-1zM848 268h5v1h-5zM987 268h1v1h-1zM988 269h1v1h-1zM1032 269h1v1h-1zM989 270h2v1h-2zM1031 270h1v1h-1zM296 271h1v3h-1zM991 271h1v1h-1zM1029 271h2v1h-2zM992 272h2v1h-2zM1028 272h1v1h-1zM994 273h2v1h-2zM1026 273h2v1h-2zM295 274h1v4h-1zM996 274h2v1h-2zM1020 274h6v1h-6zM998 275h2v1h-2zM1018 275h2v1h-2zM1000 276h2v1h-2zM1016 276h2v1h-2zM1002 277h2v1h-2zM1014 277h2v1h-2zM294 278h1v4h-1zM1004 278h10v1h-10zM293 282h1v4h-1zM292 286h1v4h-1zM291 290h1v4h-1zM290 294h1v5h-1zM289 299h1v4h-1zM288 303h1v5h-1zM287 308h1v5h-1zM286 313h1v4h-1zM285 317h1v5h-1zM4 319h3v1h-3zM7 320h20v1h-20zM27 321h2v1h-2zM29 322h2v1h-2zM284 322h1v4h-1zM31 323h1v1h-1zM32 324h1v1h-1zM33 325h1v1h-1zM34 326h1v2h-1zM283 326h1v3h-1zM35 328h1v1h-1zM36 329h1v1h-1zM282 329h1v4h-1zM37 330h2v1h-2zM39 331h1v1h-1zM40 332h1v1h-1zM41 333h1v2h-1zM281 333h1v3h-1zM42 335h1v1h-1zM43 336h1v2h-1zM280 336h1v3h-1zM44 338h1v1h-1zM45 339h1v2h-1zM279 339h1v4h-1zM46 341h1v1h-1zM47 342h1v2h-1zM278 343h1v3h-1zM48 344h1v1h-1zM49 345h1v1h-1zM50 346h1v2h-1zM277 346h1v4h-1zM51 348h1v1h-1zM52 349h1v1h-1zM53 350h1v1h-1zM276 350h1v3h-1zM54 351h1v1h-1zM55 352h1v1h-1zM56 353h1v1h-1zM212 353h5v1h-5zM275 353h1v2h-1zM57 354h1v1h-1zM211 354h1v1h-1zM217 354h2v1h-2zM58 355h1v2h-1zM112 355h7v1h-7zM210 355h1v2h-1zM219 355h1v1h-1zM274 355h1v2h-1zM110 356h2v1h-2zM119 356h1v1h-1zM120 356h1v2h-1zM220 356h1v2h-1zM59 357h1v1h-1zM108 357h2v1h-2zM209 357h1v1h-1zM273 357h1v2h-1zM60 358h3v1h-3zM107 358h1v1h-1zM121 358h1v3h-1zM208 358h1v2h-1zM221 358h1v2h-1zM63 359h4v1h-4zM105 359h2v1h-2zM272 359h1v2h-1zM67 360h12v1h-12zM103 360h2v1h-2zM207 360h1v3h-1zM222 360h1v2h-1zM79 361h3v1h-3zM99 361h4v1h-4zM122 361h1v2h-1zM271 361h1v2h-1zM82 362h2v1h-2zM95 362h4v1h-4zM223 362h1v2h-1zM84 363h2v1h-2zM92 363h3v1h-3zM123 363h1v3h-1zM206 363h1v2h-1zM270 363h1v2h-1zM86 364h2v1h-2zM90 364h2v1h-2zM224 364h1v3h-1zM88 365h2v1h-2zM205 365h1v3h-1zM269 365h1v2h-1zM124 366h1v3h-1zM225 367h1v2h-1zM268 367h1v2h-1zM204 368h1v3h-1zM125 369h1v2h-1zM226 369h1v2h-1zM267 369h1v1h-1zM266 370h1v2h-1zM126 371h1v2h-1zM203 371h1v2h-1zM227 371h1v2h-1zM265 372h1v1h-1zM127 373h1v2h-1zM202 373h1v3h-1zM228 373h1v1h-1zM264 373h1v1h-1zM229 374h1v2h-1zM263 374h1v1h-1zM128 375h1v2h-1zM261 375h2v1h-2zM129 376h2v1h-2zM201 376h1v2h-1zM230 376h1v2h-1zM260 376h1v1h-1zM131 377h32v1h-32zM167 377h12v1h-12zM259 377h1v1h-1zM163 378h4v1h-4zM179 378h4v1h-4zM200 378h1v2h-1zM231 378h1v2h-1zM257 378h2v1h-2zM183 379h4v1h-4zM199 379h1v1h-1zM256 379h1v1h-1zM187 380h12v1h-12zM232 380h1v1h-1zM255 380h1v2h-1zM233 381h1v1h-1zM234 382h1v2h-1zM254 382h1v1h-1zM253 383h1v2h-1zM235 384h1v1h-1zM236 385h6v1h-6zM252 385h1v1h-1zM242 386h2v1h-2zM250 386h2v1h-2zM244 387h6v1h-6z" fill="#3cb371"/>
<rect x="733" y="148" width="412" height="2" fill="#ff0000"/><rect x="835" y="184" width="305" height="2" fill="#00ff00"/><rect x="967" y="268" width="172" height="2" fill="#0000ff"/>
<path d="M16 275h1v24h-1zM20 289h1v15h-1zM24 302h1v29h-1zM32 297h1v23h-1zM36 310h1v22h-1zM40 327h1v9h-1zM44 330h1v12h-1zM48 332h1v21h-1zM52 343h1v15h-1zM60 331h1v27h-1zM80 314h1v25h-1zM84 320h1v23h-1zM88 333h1v16h-1zM92 340h1v16h-1zM100 333h1v12h-1zM112 329h1v13h-1zM116 332h1v12h-1zM120 334h1v17h-1zM124 343h1v47h-1zM128 371h1v21h-1zM144 317h1v17h-1zM148 312h1v18h-1zM156 317h1v27h-1zM160 331h1v13h-1zM164 341h1v24h-1zM176 319h1v14h-1zM184 298h1v19h-1zM188 304h1v20h-1zM192 311h1v34h-1zM200 319h1v22h-1zM212 328h1v21h-1zM240 214h1v21h-1zM252 173h1v53h-1zM256 208h1v23h-1zM260 226h1v18h-1zM264 223h1v21h-1zM280 213h1v11h-1zM288 209h1v14h-1zM300 189h1v14h-1zM304 197h1v13h-1zM308 202h1v13h-1zM324 135h1v20h-1zM328 145h1v10h-1zM336 146h1v22h-1zM344 138h1v17h-1zM352 139h1v9h-1zM356 139h1v44h-1zM360 162h1v27h-1zM368 183h1v13h-1zM380 181h1v29h-1zM388 194h1v34h-1zM400 216h1v12h-1zM404 223h1v16h-1zM408 234h1v27h-1zM416 211h1v27h-1zM428 205h1v29h-1zM440 206h1v33h-1zM448 199h1v15h-1zM464 137h1v45h-1zM472 155h1v22h-1zM480 143h1v25h-1zM488 148h1v33h-1zM508 116h1v18h-1zM512 113h1v18h-1zM516 129h1v20h-1zM524 132h1v25h-1zM532 143h1v21h-1zM536 135h1v46h-1zM540 154h1v27h-1zM548 169h1v48h-1zM560 182h1v22h-1zM568 157h1v14h-1zM576 164h1v20h-1zM584 174h1v22h-1zM588 171h1v21h-1zM600 173h1v14h-1zM604 177h1v10h-1zM608 181h1v28h-1zM616 193h1v10h-1zM620 195h1v13h-1zM636 164h1v25h-1zM640 184h1v14h-1zM644 193h1v12h-1zM648 198h1v18h-1zM660 180h1v30h-1zM680 190h1v16h-1zM684 183h1v20h-1zM688 196h1v12h-1zM696 121h1v19h-1zM704 105h1v22h-1zM712 97h1v31h-1zM724 114h1v12h-1zM728 118h1v22h-1zM732 122h1v21h-1zM740 121h1v21h-1zM744 67h1v25h-1zM756 58h1v18h-1zM760 65h1v20h-1zM764 73h1v21h-1zM780 50h1v26h-1zM784 70h1v18h-1zM788 79h1v33h-1zM792 84h1v57h-1zM796 125h1v28h-1zM800 134h1v19h-1zM804 135h1v28h-1zM808 160h1v12h-1zM812 157h1v13h-1zM816 160h1v45h-1zM820 197h1v10h-1zM824 190h1v45h-1zM832 197h1v21h-1zM844 190h1v19h-1zM856 194h1v20h-1zM860 208h1v21h-1zM868 202h1v16h-1zM876 203h1v27h-1zM880 213h1v30h-1zM892 213h1v19h-1zM904 211h1v17h-1zM916 205h1v14h-1zM920 209h1v15h-1zM932 192h1v25h-1zM944 186h1v16h-1zM948 193h1v15h-1zM956 195h1v14h-1zM960 199h1v48h-1zM964 232h1v13h-1zM968 241h1v28h-1zM972 253h1v20h-1zM988 244h1v11h-1zM1000 241h1v11h-1zM1004 239h1v12h-1zM1012 231h1v14h-1zM1024 224h1v31h-1zM1028 245h1v15h-1zM15 276h3v15h-3zM19 290h3v13h-3zM23 307h3v4h-3zM31 300h3v18h-3zM35 318h3v11h-3zM39 328h3v5h-3zM43 331h3v4h-3zM47 334h3v14h-3zM51 347h3v4h-3zM59 332h3v17h-3zM79 318h3v9h-3zM83 327h3v16h-3zM87 341h3v4h-3zM91 344h3v10h-3zM99 341h3v3h-3zM111 332h3v2h-3zM115 334h3v2h-3zM119 335h3v10h-3zM123 344h3v39h-3zM127 382h3v6h-3zM143 321h3v5h-3zM147 324h3v3h-3zM155 324h3v14h-3zM159 337h3v6h-3zM163 342h3v15h-3zM175 329h3v2h-3zM183 303h3v6h-3zM187 308h3v5h-3zM191 311h3v22h-3zM199 328h3v12h-3zM211 328h3v10h-3zM239 218h3v14h-3zM251 187h3v28h-3zM255 215h3v13h-3zM259 228h3v8h-3zM263 235h3v6h-3zM279 219h3v3h-3zM287 212h3v5h-3zM299 197h3v2h-3zM303 198h3v5h-3zM307 202h3v12h-3zM323 146h3v1h-3zM327 146h3v6h-3zM335 149h3v14h-3zM343 145h3v5h-3zM351 143h3v2h-3zM355 144h3v39h-3zM359 181h3v8h-3zM367 185h3v7h-3zM379 182h3v22h-3zM387 196h3v32h-3zM399 220h3v6h-3zM403 225h3v14h-3zM407 237h3v9h-3zM415 215h3v12h-3zM427 219h3v6h-3zM439 207h3v25h-3zM447 201h3v11h-3zM463 151h3v19h-3zM471 165h3v9h-3zM479 143h3v25h-3zM487 152h3v25h-3zM507 119h3v8h-3zM511 126h3v4h-3zM515 129h3v11h-3zM523 134h3v12h-3zM531 144h3v7h-3zM535 150h3v16h-3zM539 166h3v13h-3zM547 173h3v39h-3zM559 190h3v12h-3zM567 168h3v3h-3zM575 168h3v14h-3zM583 176h3v5h-3zM587 180h3v11h-3zM599 178h3v3h-3zM603 179h3v7h-3zM607 185h3v22h-3zM615 196h3v6h-3zM619 201h3v3h-3zM635 166h3v20h-3zM639 184h3v13h-3zM643 196h3v6h-3zM647 201h3v9h-3zM659 193h3v16h-3zM679 192h3v2h-3zM683 193h3v6h-3zM687 199h3v9h-3zM695 121h3v17h-3zM703 118h3v8h-3zM711 116h3v8h-3zM723 117h3v5h-3zM727 121h3v15h-3zM731 135h3v6h-3zM739 133h3v1h-3zM743 79h3v4h-3zM755 67h3v3h-3zM759 72h3v12h-3zM763 82h3v10h-3zM779 55h3v17h-3zM783 71h3v16h-3zM787 86h3v15h-3zM791 101h3v28h-3zM795 129h3v7h-3zM799 135h3v9h-3zM803 143h3v20h-3zM807 161h3v5h-3zM811 164h3v5h-3zM815 168h3v35h-3zM819 202h3v5h-3zM823 206h3v22h-3zM831 206h3v11h-3zM843 205h3v3h-3zM855 195h3v17h-3zM859 211h3v8h-3zM867 210h3v7h-3zM875 212h3v6h-3zM879 217h3v25h-3zM891 226h3v3h-3zM903 215h3v11h-3zM915 211h3v7h-3zM919 216h3v3h-3zM931 203h3v7h-3zM943 192h3v9h-3zM947 200h3v6h-3zM955 202h3v1h-3zM959 202h3v39h-3zM963 241h3v4h-3zM967 243h3v16h-3zM971 258h3v6h-3zM987 247h3v5h-3zM999 244h3v2h-3zM1003 244h3v3h-3zM1011 236h3v8h-3zM1023 226h3v28h-3zM1027 253h3v2h-3z" fill="#32cd32"/>
<path d="M4 303h1v21h-1zM8 300h1v16h-1zM12 273h1v32h-1zM28 296h1v20h-1zM56 328h1v33h-1zM64 342h1v18h-1zM68 327h1v18h-1zM72 323h1v15h-1zM76 313h1v19h-1zM96 339h1v21h-1zM104 335h1v24h-1zM108 319h1v24h-1zM132 363h1v26h-1zM136 329h1v42h-1zM140 315h1v18h-1zM152 311h1v20h-1zM168 340h1v25h-1zM172 322h1v26h-1zM180 302h1v32h-1zM196 325h1v14h-1zM204 313h1v27h-1zM208 317h1v19h-1zM216 302h1v44h-1zM220 288h1v22h-1zM224 259h1v40h-1zM228 239h1v33h-1zM232 218h1v29h-1zM236 216h1v24h-1zM244 181h1v54h-1zM248 181h1v19h-1zM268 232h1v11h-1zM272 221h1v18h-1zM276 216h1v25h-1zM284 212h1v20h-1zM292 205h1v18h-1zM296 190h1v22h-1zM312 174h1v42h-1zM316 161h1v38h-1zM320 146h1v46h-1zM332 147h1v13h-1zM340 140h1v24h-1zM348 133h1v24h-1zM364 180h1v14h-1zM372 183h1v15h-1zM376 180h1v11h-1zM384 193h1v21h-1zM392 221h1v18h-1zM396 207h1v23h-1zM412 210h1v38h-1zM420 215h1v16h-1zM424 216h1v16h-1zM432 192h1v34h-1zM436 201h1v14h-1zM444 199h1v37h-1zM452 184h1v35h-1zM456 152h1v54h-1zM460 151h1v17h-1zM468 156h1v25h-1zM476 138h1v39h-1zM484 152h1v20h-1zM492 117h1v65h-1zM496 118h1v13h-1zM500 104h1v25h-1zM504 112h1v13h-1zM520 130h1v18h-1zM528 135h1v16h-1zM544 163h1v35h-1zM552 196h1v29h-1zM556 189h1v14h-1zM564 162h1v41h-1zM572 156h1v20h-1zM580 176h1v11h-1zM592 178h1v18h-1zM596 175h1v13h-1zM612 194h1v17h-1zM624 191h1v14h-1zM628 177h1v18h-1zM632 157h1v23h-1zM652 191h1v19h-1zM656 164h1v39h-1zM664 199h1v13h-1zM668 203h1v26h-1zM672 194h1v14h-1zM676 188h1v12h-1zM692 109h1v99h-1zM700 115h1v24h-1zM708 94h1v37h-1zM716 109h1v28h-1zM720 111h1v14h-1zM736 132h1v16h-1zM748 68h1v17h-1zM752 50h1v26h-1zM768 75h1v17h-1zM772 62h1v23h-1zM776 49h1v17h-1zM828 200h1v32h-1zM836 198h1v26h-1zM840 193h1v17h-1zM848 201h1v20h-1zM852 189h1v35h-1zM864 206h1v42h-1zM872 204h1v17h-1zM884 233h1v14h-1zM888 220h1v23h-1zM896 216h1v19h-1zM900 204h1v17h-1zM908 220h1v16h-1zM912 199h1v31h-1zM924 204h1v23h-1zM928 199h1v11h-1zM936 199h1v20h-1zM940 191h1v14h-1zM952 198h1v16h-1zM976 251h1v13h-1zM980 244h1v11h-1zM984 246h1v11h-1zM992 241h1v13h-1zM996 240h1v12h-1zM1008 227h1v26h-1zM1016 224h1v21h-1zM1020 225h1v19h-1zM1032 227h1v28h-1zM1036 233h1v5h-1zM3 306h3v13h-3zM7 304h3v2h-3zM11 276h3v29h-3zM27 300h3v11h-3zM55 332h3v19h-3zM63 344h3v4h-3zM67 329h3v16h-3zM71 328h3v2h-3zM75 317h3v12h-3zM95 342h3v12h-3zM103 337h3v6h-3zM107 332h3v6h-3zM131 365h3v23h-3zM135 331h3v35h-3zM139 325h3v7h-3zM151 324h3v3h-3zM167 344h3v13h-3zM171 328h3v17h-3zM179 303h3v28h-3zM195 327h3v6h-3zM203 332h3v7h-3zM207 329h3v4h-3zM215 305h3v32h-3zM219 296h3v9h-3zM223 259h3v38h-3zM227 244h3v15h-3zM231 237h3v7h-3zM235 218h3v20h-3zM243 189h3v43h-3zM247 187h3v3h-3zM267 237h3v5h-3zM271 229h3v9h-3zM275 219h3v11h-3zM283 212h3v9h-3zM291 208h3v9h-3zM295 198h3v11h-3zM311 197h3v17h-3zM315 189h3v9h-3zM319 146h3v43h-3zM331 149h3v3h-3zM339 144h3v20h-3zM347 143h3v8h-3zM363 185h3v3h-3zM371 189h3v2h-3zM375 183h3v7h-3zM383 196h3v18h-3zM391 223h3v4h-3zM395 220h3v4h-3zM411 215h3v31h-3zM419 226h3v1h-3zM423 220h3v7h-3zM431 211h3v14h-3zM435 207h3v4h-3zM443 201h3v31h-3zM451 184h3v27h-3zM455 163h3v22h-3zM459 152h3v12h-3zM467 165h3v5h-3zM475 143h3v31h-3zM483 152h3v16h-3zM491 124h3v53h-3zM495 124h3v2h-3zM499 107h3v18h-3zM503 119h3v5h-3zM519 134h3v7h-3zM527 144h3v1h-3zM543 172h3v7h-3zM551 200h3v12h-3zM555 190h3v11h-3zM563 168h3v34h-3zM571 169h3v2h-3zM579 176h3v6h-3zM591 184h3v7h-3zM595 178h3v7h-3zM611 196h3v11h-3zM623 194h3v3h-3zM627 178h3v17h-3zM631 166h3v12h-3zM651 195h3v15h-3zM655 193h3v3h-3zM663 208h3v1h-3zM667 206h3v3h-3zM671 194h3v13h-3zM675 192h3v4h-3zM691 121h3v87h-3zM699 118h3v21h-3zM707 116h3v10h-3zM715 117h3v7h-3zM719 117h3v1h-3zM735 133h3v8h-3zM747 73h3v10h-3zM751 67h3v7h-3zM767 80h3v12h-3zM771 63h3v19h-3zM775 55h3v9h-3zM827 206h3v22h-3zM835 207h3v10h-3zM839 206h3v2h-3zM847 207h3v1h-3zM851 195h3v13h-3zM863 210h3v30h-3zM871 212h3v5h-3zM883 240h3v2h-3zM887 226h3v16h-3zM895 219h3v9h-3zM899 215h3v5h-3zM907 222h3v4h-3zM911 211h3v13h-3zM923 207h3v12h-3zM927 203h3v4h-3zM935 201h3v9h-3zM939 192h3v10h-3zM951 203h3v3h-3zM975 253h3v11h-3zM979 247h3v7h-3zM983 247h3v5h-3zM991 249h3v3h-3zM995 244h3v6h-3zM1007 236h3v12h-3zM1015 233h3v11h-3zM1019 226h3v8h-3zM1031 236h3v19h-3zM1035 233h3v4h-3z" fill="#ff0000"/>
<path d="M4 307h1v11h-1zM12 277h1v27h-1zM28 301h1v9h-1zM56 333h1v17h-1zM64 345h1v2h-1zM68 330h1v14h-1zM76 318h1v10h-1zM96 343h1v10h-1zM104 338h1v4h-1zM108 333h1v4h-1zM132 366h1v21h-1zM136 332h1v33h-1zM140 326h1v5h-1zM152 325h1v1h-1zM168 345h1v11h-1zM172 329h1v15h-1zM180 304h1v26h-1zM196 328h1v4h-1zM204 333h1v5h-1zM208 330h1v2h-1zM216 306h1v30h-1zM220 297h1v7h-1zM224 260h1v36h-1zM228 245h1v13h-1zM232 238h1v5h-1zM236 219h1v18h-1zM244 190h1v41h-1zM248 188h1v1h-1zM268 238h1v3h-1zM272 230h1v7h-1zM276 220h1v9h-1zM284 213h1v7h-1zM292 209h1v7h-1zM296 199h1v9h-1zM312 198h1v15h-1zM316 190h1v7h-1zM320 147h1v41h-1zM332 150h1v1h-1zM340 145h1v18h-1zM348 144h1v6h-1zM364 186h1v1h-1zM376 184h1v5h-1zM384 197h1v16h-1zM392 224h1v2h-1zM396 221h1v2h-1zM412 216h1v29h-1zM424 221h1v5h-1zM432 212h1v12h-1zM436 208h1v2h-1zM444 202h1v29h-1zM452 185h1v25h-1zM456 164h1v20h-1zM460 153h1v10h-1zM468 166h1v3h-1zM476 144h1v29h-1zM484 153h1v14h-1zM492 125h1v51h-1zM500 108h1v16h-1zM504 120h1v3h-1zM520 135h1v5h-1zM544 173h1v5h-1zM552 201h1v10h-1zM556 191h1v9h-1zM564 169h1v32h-1zM580 177h1v4h-1zM592 185h1v5h-1zM596 179h1v5h-1zM612 197h1v9h-1zM624 195h1v1h-1zM628 179h1v15h-1zM632 167h1v10h-1zM652 196h1v13h-1zM656 194h1v1h-1zM668 207h1v1h-1zM672 195h1v11h-1zM676 193h1v2h-1zM692 122h1v85h-1zM700 119h1v19h-1zM708 117h1v8h-1zM716 118h1v5h-1zM736 134h1v6h-1zM748 74h1v8h-1zM752 68h1v5h-1zM768 81h1v10h-1zM772 64h1v17h-1zM776 56h1v7h-1zM828 207h1v20h-1zM836 208h1v8h-1zM852 196h1v11h-1zM864 211h1v28h-1zM872 213h1v3h-1zM888 227h1v14h-1zM896 220h1v7h-1zM900 216h1v3h-1zM908 223h1v2h-1zM912 212h1v11h-1zM924 208h1v10h-1zM928 204h1v2h-1zM936 202h1v7h-1zM940 193h1v8h-1zM952 204h1v1h-1zM976 254h1v9h-1zM980 248h1v5h-1zM984 248h1v3h-1zM992 250h1v1h-1zM996 245h1v4h-1zM1008 237h1v10h-1zM1016 234h1v9h-1zM1020 227h1v6h-1zM1032 237h1v17h-1zM1036 234h1v2h-1z" fill="#ff4500"/>
<path d="M5 448h3v1h-3zM5 507h3v1h-3zM11 448h3v1h-3zM11 507h3v1h-3zM17 448h3v1h-3zM17 507h3v1h-3zM23 448h3v1h-3zM23 507h3v1h-3zM29 448h3v1h-3zM29 507h3v1h-3zM35 448h3v1h-3zM35 507h3v1h-3zM41 448h3v1h-3zM41 507h3v1h-3zM47 448h3v1h-3zM47 507h3v1h-3zM53 448h3v1h-3zM53 507h3v1h-3zM59 448h3v1h-3zM59 507h3v1h-3zM65 448h3v1h-3zM65 507h3v1h-3zM71 448h3v1h-3zM71 507h3v1h-3zM77 448h3v1h-3zM77 507h3v1h-3zM83 448h3v1h-3zM83 507h3v1h-3zM89 448h3v1h-3zM89 507h3v1h-3zM95 448h3v1h-3zM95 507h3v1h-3zM101 448h3v1h-3zM101 507h3v1h-3zM107 448h3v1h-3zM107 507h3v1h-3zM113 448h3v1h-3zM113 507h3v1h-3zM119 448h3v1h-3zM119 507h3v1h-3zM125 448h3v1h-3zM125 507h3v1h-3zM131 448h3v1h-3zM131 507h3v1h-3zM137 448h3v1h-3zM137 507h3v1h-3zM143 448h3v1h-3zM143 507h3v1h-3zM149 448h3v1h-3zM149 507h3v1h-3zM155 448h3v1h-3zM155 507h3v1h-3zM161 448h3v1h-3zM161 507h3v1h-3zM167 448h3v1h-3zM167 507h3v1h-3zM173 448h3v1h-3zM173 507h3v1h-3zM179 448h3v1h-3zM179 507h3v1h-3zM185 448h3v1h-3zM185 507h3v1h-3zM191 448h3v1h-3zM191 507h3v1h-3zM197 448h3v1h-3zM197 507h3v1h-3zM203 448h3v1h-3zM203 507h3v1h-3zM209 448h3v1h-3zM209 507h3v1h-3zM215 448h3v1h-3zM215 507h3v1h-3zM221 448h3v1h-3zM221 507h3v1h-3zM227 448h3v1h-3zM227 507h3v1h-3zM233 448h3v1h-3zM233 507h3v1h-3zM239 448h3v1h-3zM239 507h3v1h-3zM245 448h3v1h-3zM245 507h3v1h-3zM251 448h3v1h-3zM251 507h3v1h-3zM257 448h3v1h-3zM257 507h3v1h-3zM263 448h3v1h-3zM263 507h3v1h-3zM269 448h3v1h-3zM269 507h3v1h-3zM275 448h3v1h-3zM275 507h3v1h-3zM281 448h3v1h-3zM281 507h3v1h-3zM287 448h3v1h-3zM287 507h3v1h-3zM293 448h3v1h-3zM293 507h3v1h-3zM299 448h3v1h-3zM299 507h3v1h-3zM305 448h3v1h-3zM305 507h3v1h-3zM311 448h3v1h-3zM311 507h3v1h-3zM317 448h3v1h-3zM317 507h3v1h-3zM323 448h3v1h-3zM323 507h3v1h-3zM329 448h3v1h-3zM329 507h3v1h-3zM335 448h3v1h-3zM335 507h3v1h-3zM341 448h3v1h-3zM341 507h3v1h-3zM347 448h3v1h-3zM347 507h3v1h-3zM353 448h3v1h-3zM353 507h3v1h-3zM359 448h3v1h-3zM359 507h3v1h-3zM365 448h3v1h-3zM365 507h3v1h-3zM371 448h3v1h-3zM371 507h3v1h-3zM377 448h3v1h-3zM377 507h3v1h-3zM383 448h3v1h-3zM383 507h3v1h-3zM389 448h3v1h-3zM389 507h3v1h-3zM395 448h3v1h-3zM395 507h3v1h-3zM401 448h3v1h-3zM401 507h3v1h-3zM407 448h3v1h-3zM407 507h3v1h-3zM413 448h3v1h-3zM413 507h3v1h-3zM419 448h3v1h-3zM419 507h3v1h-3zM425 448h3v1h-3zM425 507h3v1h-3zM431 448h3v1h-3zM431 507h3v1h-3zM437 448h3v1h-3zM437 507h3v1h-3zM443 448h3v1h-3zM443 507h3v1h-3zM449 448h3v1h-3zM449 507h3v1h-3zM455 448h3v1h-3zM455 507h3v1h-3zM461 448h3v1h-3zM461 507h3v1h-3zM467 448h3v1h-3zM467 507h3v1h-3zM473 448h3v1h-3zM473 507h3v1h-3zM479 448h3v1h-3zM479 507h3v1h-3zM485 448h3v1h-3zM485 507h3v1h-3zM491 448h3v1h-3zM491 507h3v1h-3zM497 448h3v1h-3zM497 507h3v1h-3zM503 448h3v1h-3zM503 507h3v1h-3zM509 448h3v1h-3zM509 507h3v1h-3zM515 448h3v1h-3zM515 507h3v1h-3zM521 448h3v1h-3zM521 507h3v1h-3zM527 448h3v1h-3zM527 507h3v1h-3zM533 448h3v1h-3zM533 507h3v1h-3zM539 448h3v1h-3zM539 507h3v1h-3zM545 448h3v1h-3zM545 507h3v1h-3zM551 448h3v1h-3zM551 507h3v1h-3zM557 448h3v1h-3zM557 507h3v1h-3zM563 448h3v1h-3zM563 507h3v1h-3zM569 448h3v1h-3zM569 507h3v1h-3zM575 448h3v1h-3zM575 507h3v1h-3zM581 448h3v1h-3zM581 507h3v1h-3zM587 448h3v1h-3zM587 507h3v1h-3zM593 448h3v1h-3zM593 507h3v1h-3zM599 448h3v1h-3zM599 507h3v1h-3zM605 448h3v1h-3zM605 507h3v1h-3zM611 448h3v1h-3zM611 507h3v1h-3zM617 448h3v1h-3zM617 507h3v1h-3zM623 448h3v1h-3zM623 507h3v1h-3zM629 448h3v1h-3zM629 507h3v1h-3zM635 448h3v1h-3zM635 507h3v1h-3zM641 448h3v1h-3zM641 507h3v1h-3zM647 448h3v1h-3zM647 507h3v1h-3zM653 448h3v1h-3zM653 507h3v1h-3zM659 448h3v1h-3zM659 507h3v1h-3zM665 448h3v1h-3zM665 507h3v1h-3zM671 448h3v1h-3zM671 507h3v1h-3zM677 448h3v1h-3zM677 507h3v1h-3zM683 448h3v1h-3zM683 507h3v1h-3zM689 448h3v1h-3zM689 507h3v1h-3zM695 448h3v1h-3zM695 507h3v1h-3zM701 448h3v1h-3zM701 507h3v1h-3zM707 448h3v1h-3zM707 507h3v1h-3zM713 448h3v1h-3zM713 507h3v1h-3zM719 448h3v1h-3zM719 507h3v1h-3zM725 448h3v1h-3zM725 507h3v1h-3zM731 448h3v1h-3zM731 507h3v1h-3zM737 448h3v1h-3zM737 507h3v1h-3zM743 448h3v1h-3zM743 507h3v1h-3zM749 448h3v1h-3zM749 507h3v1h-3zM755 448h3v1h-3zM755 507h3v1h-3zM761 448h3v1h-3zM761 507h3v1h-3zM767 448h3v1h-3zM767 507h3v1h-3zM773 448h3v1h-3zM773 507h3v1h-3zM779 448h3v1h-3zM779 507h3v1h-3zM785 448h3v1h-3zM785 507h3v1h-3zM791 448h3v1h-3zM791 507h3v1h-3zM797 448h3v1h-3zM797 507h3v1h-3zM803 448h3v1h-3zM803 507h3v1h-3zM809 448h3v1h-3zM809 507h3v1h-3zM815 448h3v1h-3zM815 507h3v1h-3zM821 448h3v1h-3zM821 507h3v1h-3zM827 448h3v1h-3zM827 507h3v1h-3zM833 448h3v1h-3zM833 507h3v1h-3zM839 448h3v1h-3zM839 507h3v1h-3zM845 448h3v1h-3zM845 507h3v1h-3zM851 448h3v1h-3zM851 507h3v1h-3zM857 448h3v1h-3zM857 507h3v1h-3zM863 448h3v1h-3zM863 507h3v1h-3zM869 448h3v1h-3zM869 507h3v1h-3zM875 448h3v1h-3zM875 507h3v1h-3zM881 448h3v1h-3zM881 507h3v1h-3zM887 448h3v1h-3zM887 507h3v1h-3zM893 448h3v1h-3zM893 507h3v1h-3zM899 448h3v1h-3zM899 507h3v1h-3zM905 448h3v1h-3zM905 507h3v1h-3zM911 448h3v1h-3zM911 507h3v1h-3zM917 448h3v1h-3zM917 507h3v1h-3zM923 448h3v1h-3zM923 507h3v1h-3zM929 448h3v1h-3zM929 507h3v1h-3zM935 448h3v1h-3zM935 507h3v1h-3zM941 448h3v1h-3zM941 507h3v1h-3zM947 448h3v1h-3zM947 507h3v1h-3zM953 448h3v1h-3zM953 507h3v1h-3zM959 448h3v1h-3zM959 507h3v1h-3zM965 448h3v1h-3zM965 507h3v1h-3zM971 448h3v1h-3zM971 507h3v1h-3zM977 448h3v1h-3zM977 507h3v1h-3zM983 448h3v1h-3zM983 507h3v1h-3zM989 448h3v1h-3zM989 507h3v1h-3zM995 448h3v1h-3zM995 507h3v1h-3zM1001 448h3v1h-3zM1001 507h3v1h-3zM1007 448h3v1h-3zM1007 507h3v1h-3zM1013 448h3v1h-3zM1013 507h3v1h-3zM1019 448h3v1h-3zM1019 507h3v1h-3zM1025 448h3v1h-3zM1025 507h3v1h-3zM1031 448h3v1h-3zM1031 507h3v1h-3zM1037 448h3v1h-3zM1037 507h3v1h-3zM1043 448h3v1h-3zM1043 507h3v1h-3zM1049 448h3v1h-3zM1049 507h3v1h-3zM1055 448h3v1h-3zM1055 507h3v1h-3zM1061 448h3v1h-3zM1061 507h3v1h-3zM1067 448h3v1h-3zM1067 507h3v1h-3zM1073 448h3v1h-3zM1073 507h3v1h-3zM1079 448h3v1h-3zM1079 507h3v1h-3zM1085 448h3v1h-3zM1085 507h3v1h-3zM1091 448h3v1h-3zM1091 507h3v1h-3zM1097 448h3v1h-3zM1097 507h3v1h-3zM1103 448h3v1h-3zM1103 507h3v1h-3zM1109 448h3v1h-3zM1109 507h3v1h-3zM1115 448h3v1h-3zM1115 507h3v1h-3zM1121 448h3v1h-3zM1121 507h3v1h-3zM1127 448h3v1h-3zM1127 507h3v1h-3zM1133 448h3v1h-3zM1133 507h3v1h-3zM1139 448h3v1h-3zM1139 507h3v1h-3zM1145 448h3v1h-3zM1145 507h3v1h-3zM1151 448h3v1h-3zM1151 507h3v1h-3zM1157 448h3v1h-3zM1157 507h3v1h-3zM1163 448h3v1h-3zM1163 507h3v1h-3zM1169 448h3v1h-3zM1169 507h3v1h-3zM1175 448h3v1h-3zM1175 507h3v1h-3zM1181 448h3v1h-3zM1181 507h3v1h-3zM1187 448h3v1h-3zM1187 507h3v1h-3zM1193 448h3v1h-3zM1193 507h3v1h-3zM1199 448h3v1h-3zM1199 507h3v1h-3zM1205 448h3v1h-3zM1205 507h3v1h-3zM1211 448h3v1h-3zM1211 507h3v1h-3zM1217 448h3v1h-3zM1217 507h3v1h-3zM1223 448h3v1h-3zM1223 507h3v1h-3zM1229 448h3v1h-3zM1229 507h3v1h-3zM1235 448h3v1h-3zM1235 507h3v1h-3zM1241 448h3v1h-3zM1241 507h3v1h-3zM1247 448h3v1h-3zM1247 507h3v1h-3zM1253 448h3v1h-3zM1253 507h3v1h-3zM1259 448h3v1h-3zM1259 507h3v1h-3zM1265 448h3v1h-3zM1265 507h3v1h-3zM1271 448h3v1h-3zM1271 507h3v1h-3zM1277 448h3v1h-3zM1277 507h3v1h-3zM1283 448h3v1h-3zM1283 507h3v1h-3zM1289 448h3v1h-3zM1289 507h3v1h-3zM1295 448h3v1h-3zM1295 507h3v1h-3zM1301 448h3v1h-3zM1301 507h3v1h-3z" fill="#c0c0c0"/>
<path d="M244 439h4v1h-4zM248 439h1v2h-1zM236 440h1v1h-1zM243 440h1v2h-1zM235 441h1v1h-1zM237 441h1v2h-1zM249 441h1v3h-1zM234 442h1v1h-1zM242 442h1v2h-1zM320 442h1v2h-1zM321 442h4v1h-4zM233 443h1v1h-1zM238 443h1v2h-1zM325 443h1v1h-1zM232 444h1v1h-1zM241 444h1v2h-1zM250 444h1v4h-1zM319 444h1v3h-1zM326 444h1v1h-1zM230 445h2v1h-2zM239 445h1v2h-1zM327 445h1v1h-1zM751 445h4v1h-4zM228 446h2v1h-2zM240 446h1v2h-1zM328 446h4v1h-4zM332 446h1v2h-1zM748 446h3v1h-3zM755 446h1v1h-1zM756 446h1v2h-1zM227 447h1v1h-1zM318 447h1v3h-1zM746 447h2v1h-2zM226 448h1v1h-1zM251 448h1v3h-1zM333 448h1v2h-1zM744 448h1v3h-1zM745 448h1v1h-1zM757 448h1v2h-1zM776 448h1v2h-1zM225 449h1v1h-1zM340 449h1v1h-1zM775 449h1v1h-1zM224 450h1v2h-1zM317 450h1v3h-1zM334 450h1v2h-1zM339 450h1v2h-1zM341 450h2v1h-2zM348 450h3v1h-3zM692 450h1v5h-1zM758 450h1v2h-1zM773 450h2v1h-2zM777 450h1v2h-1zM252 451h1v3h-1zM343 451h1v1h-1zM346 451h2v1h-2zM351 451h1v1h-1zM352 451h1v3h-1zM743 451h1v4h-1zM772 451h1v1h-1zM223 452h1v2h-1zM296 452h5v1h-5zM335 452h1v2h-1zM338 452h1v1h-1zM344 452h2v1h-2zM693 452h1v2h-1zM759 452h1v2h-1zM771 452h1v1h-1zM778 452h1v3h-1zM295 453h1v1h-1zM301 453h1v1h-1zM316 453h1v2h-1zM337 453h1v2h-1zM700 453h1v1h-1zM770 453h1v2h-1zM222 454h1v3h-1zM253 454h1v2h-1zM294 454h1v1h-1zM302 454h1v1h-1zM336 454h1v2h-1zM353 454h1v6h-1zM694 454h1v2h-1zM699 454h1v1h-1zM701 454h1v1h-1zM708 454h1v1h-1zM760 454h1v1h-1zM293 455h1v1h-1zM303 455h1v1h-1zM315 455h1v1h-1zM500 455h1v1h-1zM691 455h1v9h-1zM698 455h1v2h-1zM702 455h1v1h-1zM707 455h1v1h-1zM709 455h1v1h-1zM742 455h1v5h-1zM761 455h1v2h-1zM769 455h1v1h-1zM779 455h1v2h-1zM254 456h1v2h-1zM284 456h1v1h-1zM292 456h1v1h-1zM304 456h1v1h-1zM313 456h2v1h-2zM499 456h1v1h-1zM501 456h1v1h-1zM695 456h1v2h-1zM703 456h1v1h-1zM705 456h2v1h-2zM710 456h1v1h-1zM716 456h6v1h-6zM768 456h1v1h-1zM221 457h1v2h-1zM283 457h1v1h-1zM285 457h2v1h-2zM291 457h1v1h-1zM305 457h1v2h-1zM312 457h1v1h-1zM460 457h1v2h-1zM498 457h1v1h-1zM502 457h1v2h-1zM697 457h1v1h-1zM704 457h1v1h-1zM711 457h1v1h-1zM714 457h2v1h-2zM722 457h2v1h-2zM762 457h1v1h-1zM767 457h1v1h-1zM780 457h1v3h-1zM255 458h1v2h-1zM276 458h3v1h-3zM281 458h2v1h-2zM287 458h1v1h-1zM289 458h2v1h-2zM311 458h1v2h-1zM459 458h1v1h-1zM476 458h1v2h-1zM497 458h1v1h-1zM696 458h1v1h-1zM712 458h2v1h-2zM724 458h1v2h-1zM763 458h1v2h-1zM766 458h1v1h-1zM220 459h1v2h-1zM275 459h1v1h-1zM279 459h2v1h-2zM288 459h1v1h-1zM306 459h1v2h-1zM457 459h2v1h-2zM461 459h1v2h-1zM492 459h1v2h-1zM493 459h4v1h-4zM503 459h1v1h-1zM765 459h1v1h-1zM256 460h1v1h-1zM273 460h2v1h-2zM310 460h1v1h-1zM354 460h1v5h-1zM456 460h1v1h-1zM475 460h1v2h-1zM477 460h1v3h-1zM504 460h1v1h-1zM725 460h1v2h-1zM741 460h1v4h-1zM764 460h1v1h-1zM781 460h1v2h-1zM180 461h1v2h-1zM219 461h1v1h-1zM257 461h2v1h-2zM272 461h1v1h-1zM307 461h1v2h-1zM309 461h1v2h-1zM455 461h1v2h-1zM462 461h1v2h-1zM491 461h1v4h-1zM505 461h2v1h-2zM181 462h1v1h-1zM218 462h1v2h-1zM259 462h1v1h-1zM271 462h1v1h-1zM474 462h1v3h-1zM507 462h1v1h-1zM726 462h1v2h-1zM782 462h1v2h-1zM179 463h1v3h-1zM182 463h1v1h-1zM260 463h1v1h-1zM269 463h2v1h-2zM308 463h1v1h-1zM454 463h1v2h-1zM463 463h1v2h-1zM468 463h1v1h-1zM478 463h1v2h-1zM508 463h3v1h-3zM183 464h1v1h-1zM217 464h1v1h-1zM261 464h2v1h-2zM268 464h1v1h-1zM466 464h2v1h-2zM469 464h1v1h-1zM484 464h1v2h-1zM511 464h2v1h-2zM690 464h1v10h-1zM727 464h1v2h-1zM740 464h1v3h-1zM783 464h1v2h-1zM184 465h2v1h-2zM216 465h1v2h-1zM263 465h1v1h-1zM266 465h2v1h-2zM355 465h1v6h-1zM453 465h1v2h-1zM464 465h2v1h-2zM470 465h1v2h-1zM473 465h1v2h-1zM479 465h1v3h-1zM483 465h1v1h-1zM490 465h1v4h-1zM513 465h1v1h-1zM12 466h1v2h-1zM178 466h1v4h-1zM186 466h2v1h-2zM264 466h2v1h-2zM482 466h1v2h-1zM485 466h1v2h-1zM514 466h1v2h-1zM728 466h1v2h-1zM736 466h4v1h-4zM784 466h1v3h-1zM13 467h1v2h-1zM188 467h1v2h-1zM215 467h1v4h-1zM452 467h1v2h-1zM471 467h1v1h-1zM472 467h1v2h-1zM520 467h1v1h-1zM729 467h1v1h-1zM735 467h1v1h-1zM11 468h1v4h-1zM480 468h1v2h-1zM481 468h1v1h-1zM486 468h1v3h-1zM515 468h1v1h-1zM518 468h2v1h-2zM521 468h1v1h-1zM730 468h2v1h-2zM733 468h2v1h-2zM14 469h1v2h-1zM189 469h1v3h-1zM451 469h1v2h-1zM489 469h1v4h-1zM516 469h2v1h-2zM522 469h1v2h-1zM632 469h1v2h-1zM732 469h1v1h-1zM785 469h1v2h-1zM940 469h1v1h-1zM177 470h1v3h-1zM631 470h1v2h-1zM939 470h1v1h-1zM941 470h1v2h-1zM15 471h1v2h-1zM140 471h7v1h-7zM151 471h2v1h-2zM214 471h1v4h-1zM356 471h1v3h-1zM450 471h1v3h-1zM487 471h1v2h-1zM523 471h1v1h-1zM527 471h2v1h-2zM633 471h1v2h-1zM786 471h1v2h-1zM938 471h1v2h-1zM10 472h1v3h-1zM139 472h1v1h-1zM147 472h4v1h-4zM153 472h1v2h-1zM190 472h1v2h-1zM524 472h3v1h-3zM529 472h2v1h-2zM630 472h1v1h-1zM942 472h1v1h-1zM16 473h1v1h-1zM137 473h2v1h-2zM172 473h3v1h-3zM176 473h1v2h-1zM444 473h1v2h-1zM488 473h1v2h-1zM531 473h1v1h-1zM629 473h1v2h-1zM634 473h1v3h-1zM787 473h1v2h-1zM937 473h1v1h-1zM943 473h1v2h-1zM1020 473h1v3h-1zM17 474h1v2h-1zM136 474h1v2h-1zM154 474h1v2h-1zM171 474h1v2h-1zM175 474h1v1h-1zM191 474h1v3h-1zM357 474h2v1h-2zM376 474h1v2h-1zM445 474h1v1h-1zM449 474h1v2h-1zM532 474h1v1h-1zM689 474h1v9h-1zM936 474h1v1h-1zM1019 474h1v1h-1zM9 475h1v4h-1zM213 475h1v4h-1zM359 475h1v1h-1zM363 475h2v1h-2zM375 475h1v1h-1zM443 475h1v4h-1zM446 475h1v1h-1zM533 475h1v2h-1zM628 475h1v2h-1zM788 475h1v2h-1zM935 475h1v2h-1zM944 475h1v1h-1zM1018 475h1v2h-1zM18 476h1v1h-1zM76 476h1v1h-1zM135 476h1v4h-1zM155 476h1v2h-1zM170 476h1v1h-1zM196 476h1v1h-1zM207 476h2v1h-2zM360 476h3v1h-3zM365 476h2v1h-2zM373 476h2v1h-2zM377 476h1v2h-1zM435 476h1v1h-1zM436 476h1v2h-1zM447 476h1v1h-1zM448 476h1v2h-1zM635 476h1v2h-1zM927 476h2v1h-2zM945 476h2v1h-2zM955 476h1v1h-1zM956 476h1v3h-1zM1021 476h1v4h-1zM19 477h1v2h-1zM75 477h1v2h-1zM77 477h1v2h-1zM169 477h1v2h-1zM192 477h1v2h-1zM194 477h2v1h-2zM197 477h1v2h-1zM204 477h3v1h-3zM209 477h1v1h-1zM367 477h1v1h-1zM371 477h2v1h-2zM432 477h3v1h-3zM534 477h1v2h-1zM564 477h1v2h-1zM565 477h2v1h-2zM571 477h2v1h-2zM627 477h1v2h-1zM789 477h1v3h-1zM924 477h1v2h-1zM925 477h2v1h-2zM929 477h1v1h-1zM934 477h1v1h-1zM947 477h1v1h-1zM951 477h4v1h-4zM1017 477h1v1h-1zM1036 477h1v1h-1zM28 478h1v1h-1zM156 478h1v1h-1zM193 478h1v1h-1zM203 478h1v1h-1zM210 478h1v2h-1zM368 478h3v1h-3zM378 478h1v3h-1zM431 478h1v2h-1zM437 478h1v3h-1zM567 478h4v1h-4zM573 478h1v1h-1zM636 478h1v2h-1zM676 478h3v1h-3zM930 478h1v1h-1zM933 478h1v2h-1zM948 478h3v1h-3zM1016 478h1v2h-1zM1034 478h2v1h-2zM8 479h1v2h-1zM20 479h1v1h-1zM27 479h1v2h-1zM29 479h1v2h-1zM74 479h1v1h-1zM78 479h1v1h-1zM157 479h2v1h-2zM168 479h1v2h-1zM198 479h1v1h-1zM202 479h1v2h-1zM212 479h1v3h-1zM442 479h1v3h-1zM535 479h1v2h-1zM563 479h1v3h-1zM574 479h1v2h-1zM626 479h1v2h-1zM674 479h2v1h-2zM679 479h2v1h-2zM923 479h1v2h-1zM931 479h1v1h-1zM957 479h1v6h-1zM1032 479h1v2h-1zM1033 479h1v1h-1zM7 480h1v1h-1zM21 480h1v1h-1zM73 480h1v2h-1zM79 480h1v2h-1zM108 480h3v1h-3zM134 480h1v4h-1zM159 480h1v1h-1zM199 480h1v2h-1zM211 480h1v1h-1zM384 480h1v2h-1zM430 480h1v2h-1zM580 480h2v1h-2zM596 480h5v1h-5zM637 480h1v1h-1zM672 480h2v1h-2zM681 480h2v1h-2zM790 480h1v2h-1zM932 480h1v1h-1zM1015 480h1v2h-1zM1022 480h1v5h-1zM4 481h3v1h-3zM22 481h1v2h-1zM26 481h1v1h-1zM30 481h1v2h-1zM107 481h1v1h-1zM111 481h6v1h-6zM160 481h1v1h-1zM167 481h1v2h-1zM201 481h1v1h-1zM379 481h1v2h-1zM383 481h1v1h-1zM438 481h1v2h-1zM536 481h1v1h-1zM575 481h1v1h-1zM578 481h2v1h-2zM582 481h2v1h-2zM594 481h2v1h-2zM601 481h2v1h-2zM625 481h1v2h-1zM638 481h1v2h-1zM655 481h2v1h-2zM671 481h1v2h-1zM683 481h1v1h-1zM922 481h1v2h-1zM1031 481h1v3h-1zM25 482h1v2h-1zM71 482h2v1h-2zM80 482h1v1h-1zM105 482h2v1h-2zM117 482h1v1h-1zM161 482h1v2h-1zM200 482h1v1h-1zM382 482h1v1h-1zM385 482h1v4h-1zM412 482h1v3h-1zM429 482h1v2h-1zM441 482h1v4h-1zM537 482h1v1h-1zM562 482h1v4h-1zM576 482h2v1h-2zM584 482h1v1h-1zM592 482h2v1h-2zM603 482h1v1h-1zM652 482h3v1h-3zM657 482h1v2h-1zM684 482h1v1h-1zM791 482h1v3h-1zM912 482h1v1h-1zM1008 482h1v2h-1zM1014 482h1v2h-1zM23 483h1v1h-1zM31 483h1v2h-1zM68 483h3v1h-3zM81 483h1v1h-1zM104 483h1v1h-1zM118 483h1v2h-1zM166 483h1v2h-1zM380 483h1v2h-1zM381 483h1v1h-1zM413 483h1v1h-1zM424 483h2v1h-2zM439 483h1v3h-1zM538 483h1v2h-1zM544 483h1v2h-1zM585 483h1v1h-1zM591 483h1v1h-1zM604 483h1v2h-1zM624 483h1v2h-1zM639 483h1v1h-1zM651 483h1v2h-1zM670 483h1v2h-1zM685 483h1v1h-1zM688 483h1v5h-1zM911 483h1v2h-1zM913 483h2v1h-2zM921 483h1v2h-1zM1009 483h1v1h-1zM24 484h1v1h-1zM67 484h1v2h-1zM82 484h1v2h-1zM103 484h1v1h-1zM133 484h1v4h-1zM162 484h1v2h-1zM414 484h1v2h-1zM422 484h2v1h-2zM426 484h2v1h-2zM428 484h1v2h-1zM543 484h1v1h-1zM586 484h1v1h-1zM590 484h1v1h-1zM640 484h1v1h-1zM658 484h1v2h-1zM686 484h1v2h-1zM915 484h1v1h-1zM1007 484h1v2h-1zM1010 484h1v2h-1zM1013 484h1v2h-1zM1030 484h1v3h-1zM32 485h1v1h-1zM102 485h1v1h-1zM119 485h1v1h-1zM165 485h1v2h-1zM411 485h1v4h-1zM420 485h2v1h-2zM539 485h1v1h-1zM541 485h2v1h-2zM545 485h1v4h-1zM587 485h1v1h-1zM589 485h1v1h-1zM605 485h1v2h-1zM623 485h1v2h-1zM641 485h2v1h-2zM650 485h1v2h-1zM669 485h1v2h-1zM792 485h1v2h-1zM910 485h1v2h-1zM916 485h3v1h-3zM920 485h1v2h-1zM958 485h1v5h-1zM1023 485h1v4h-1zM33 486h1v1h-1zM66 486h1v2h-1zM83 486h1v1h-1zM96 486h3v1h-3zM101 486h1v1h-1zM120 486h1v3h-1zM163 486h1v2h-1zM386 486h1v3h-1zM415 486h1v1h-1zM418 486h2v1h-2zM440 486h1v2h-1zM540 486h1v1h-1zM561 486h1v3h-1zM588 486h1v1h-1zM643 486h1v1h-1zM659 486h1v2h-1zM687 486h1v1h-1zM793 486h1v1h-1zM919 486h1v1h-1zM1006 486h1v2h-1zM1011 486h1v1h-1zM1012 486h1v2h-1zM34 487h1v2h-1zM56 487h1v2h-1zM84 487h2v1h-2zM95 487h1v2h-1zM99 487h2v1h-2zM164 487h1v2h-1zM416 487h2v1h-2zM556 487h1v1h-1zM606 487h1v3h-1zM612 487h2v1h-2zM622 487h1v1h-1zM644 487h1v1h-1zM649 487h1v2h-1zM667 487h2v1h-2zM794 487h2v1h-2zM900 487h1v1h-1zM909 487h1v2h-1zM1029 487h1v3h-1zM57 488h1v2h-1zM65 488h1v2h-1zM86 488h2v1h-2zM132 488h1v4h-1zM555 488h1v1h-1zM557 488h2v1h-2zM611 488h1v2h-1zM614 488h2v1h-2zM621 488h1v2h-1zM645 488h2v1h-2zM660 488h7v1h-7zM796 488h1v1h-1zM899 488h1v1h-1zM901 488h1v1h-1zM1005 488h1v2h-1zM35 489h1v1h-1zM55 489h1v3h-1zM88 489h1v1h-1zM94 489h1v2h-1zM121 489h1v5h-1zM387 489h1v4h-1zM410 489h1v5h-1zM546 489h1v3h-1zM554 489h1v1h-1zM559 489h1v1h-1zM560 489h1v2h-1zM616 489h3v1h-3zM647 489h1v1h-1zM648 489h1v2h-1zM797 489h2v1h-2zM897 489h2v1h-2zM902 489h1v2h-1zM908 489h1v2h-1zM1024 489h1v3h-1zM36 490h2v1h-2zM58 490h1v2h-1zM64 490h1v2h-1zM89 490h1v1h-1zM396 490h2v1h-2zM553 490h1v1h-1zM607 490h1v2h-1zM610 490h1v1h-1zM619 490h2v1h-2zM799 490h1v1h-1zM896 490h1v1h-1zM959 490h1v6h-1zM996 490h7v1h-7zM1004 490h1v2h-1zM1028 490h1v2h-1zM38 491h2v1h-2zM90 491h1v2h-1zM93 491h1v2h-1zM394 491h2v1h-2zM398 491h2v1h-2zM552 491h1v1h-1zM609 491h1v2h-1zM800 491h1v1h-1zM895 491h1v2h-1zM903 491h1v1h-1zM906 491h2v1h-2zM995 491h1v1h-1zM1003 491h1v1h-1zM1025 491h3v1h-3zM40 492h3v1h-3zM54 492h1v4h-1zM59 492h1v2h-1zM63 492h1v1h-1zM131 492h1v4h-1zM392 492h2v1h-2zM400 492h1v1h-1zM547 492h1v4h-1zM551 492h1v2h-1zM608 492h1v2h-1zM801 492h1v2h-1zM852 492h1v1h-1zM904 492h2v1h-2zM994 492h1v1h-1zM43 493h2v1h-2zM61 493h2v1h-2zM91 493h1v1h-1zM92 493h1v2h-1zM388 493h1v2h-1zM390 493h2v1h-2zM401 493h1v1h-1zM851 493h1v2h-1zM853 493h1v2h-1zM894 493h1v1h-1zM993 493h1v1h-1zM45 494h1v1h-1zM60 494h1v1h-1zM122 494h1v4h-1zM389 494h1v1h-1zM402 494h1v2h-1zM409 494h1v4h-1zM550 494h1v1h-1zM802 494h1v1h-1zM893 494h1v2h-1zM980 494h5v1h-5zM992 494h1v1h-1zM46 495h1v1h-1zM549 495h1v2h-1zM803 495h1v2h-1zM850 495h1v1h-1zM854 495h1v1h-1zM864 495h2v1h-2zM872 495h2v1h-2zM888 495h1v2h-1zM889 495h2v1h-2zM979 495h1v1h-1zM985 495h2v1h-2zM991 495h1v1h-1zM47 496h1v1h-1zM53 496h1v3h-1zM130 496h1v4h-1zM403 496h1v1h-1zM548 496h1v2h-1zM849 496h1v2h-1zM855 496h1v2h-1zM863 496h1v2h-1zM866 496h2v1h-2zM870 496h2v1h-2zM874 496h2v1h-2zM891 496h2v1h-2zM960 496h1v3h-1zM978 496h1v2h-1zM987 496h1v1h-1zM989 496h2v1h-2zM48 497h1v1h-1zM404 497h1v1h-1zM804 497h3v1h-3zM868 497h2v1h-2zM876 497h1v2h-1zM887 497h1v2h-1zM988 497h1v1h-1zM49 498h2v1h-2zM123 498h1v5h-1zM405 498h2v1h-2zM408 498h1v3h-1zM807 498h4v1h-4zM848 498h1v1h-1zM856 498h1v1h-1zM862 498h1v1h-1zM961 498h1v1h-1zM977 498h1v1h-1zM51 499h1v1h-1zM52 499h1v2h-1zM407 499h1v1h-1zM811 499h1v1h-1zM812 499h1v2h-1zM839 499h4v1h-4zM846 499h2v1h-2zM857 499h2v1h-2zM861 499h1v2h-1zM877 499h1v2h-1zM886 499h1v3h-1zM962 499h2v1h-2zM976 499h1v1h-1zM129 500h1v4h-1zM836 500h3v1h-3zM843 500h3v1h-3zM859 500h1v1h-1zM964 500h1v1h-1zM975 500h1v2h-1zM813 501h1v2h-1zM835 501h1v1h-1zM860 501h1v1h-1zM878 501h1v2h-1zM965 501h1v2h-1zM828 502h1v2h-1zM834 502h1v2h-1zM885 502h1v2h-1zM974 502h1v2h-1zM124 503h1v3h-1zM814 503h1v2h-1zM829 503h2v1h-2zM879 503h1v2h-1zM966 503h1v1h-1zM128 504h1v3h-1zM827 504h1v3h-1zM831 504h1v1h-1zM833 504h1v1h-1zM884 504h1v2h-1zM967 504h1v2h-1zM973 504h1v2h-1zM125 505h2v1h-2zM815 505h1v2h-1zM832 505h1v1h-1zM880 505h1v2h-1zM883 505h1v1h-1zM127 506h1v1h-1zM881 506h2v1h-2zM968 506h5v1h-5zM816 507h1v2h-1zM826 507h1v3h-1zM817 508h1v1h-1zM818 509h2v1h-2zM820 510h1v1h-1zM825 510h1v3h-1zM821 511h1v1h-1zM822 512h1v1h-1zM823 513h1v1h-1zM824 513h1v2h-1z" fill="#1e90ff"/>
</g>
<path d="M3 30h1305v1h-1305zM3 401h1305v1h-1305zM3 403h1305v1h-1305zM3 551h1305v1h-1305zM3 30h1v371h-1zM3 403h1v149h-1zM1307 30h1v522h-1z" fill="#000"/>
<rect x="1309" y="228" width="41" height="11" fill="#000"/>
<path d="M1308 35h2v1h-2zM1308 68h2v1h-2zM1308 101h2v1h-2zM1308 134h2v1h-2zM1308 167h2v1h-2zM1308 200h2v1h-2zM1308 233h2v1h-2zM1308 266h2v1h-2zM1308 299h2v1h-2zM1308 332h2v1h-2zM1308 365h2v1h-2zM1308 398h2v1h-2zM1308 405h1v1h-1zM1308 550h1v1h-1zM4 552h1v3h-1zM68 552h1v3h-1zM132 552h1v3h-1zM196 552h1v3h-1zM260 552h1v3h-1zM324 552h1v3h-1zM388 552h1v3h-1zM452 552h1v3h-1zM516 552h1v3h-1zM580 552h1v3h-1zM644 552h1v3h-1zM708 552h1v3h-1zM772 552h1v3h-1zM836 552h1v3h-1zM900 552h1v3h-1zM964 552h1v3h-1zM1028 552h1v3h-1z" fill="#000"/>
<path d="M10 37h1v1h-1zM9 38h3v1h-3zM8 39h5v1h-5zM7 40h7v1h-7z" fill="#000"/>
<!-- one click trading panel -->
<g>
<rect x="7" y="50" width="219" height="24" fill="#fff"/>
<path d="M7 50h52v24h57v40h-109z" fill="url(#rg)"/>
<path d="M174 50h52v64h-108v-40h56z" fill="url(#rg)"/>
<path d="M7 50h52v1h-52zM7 50h1v64h-1zM174 50h52v1h-52zM118 74h56v1h-56zM118 74h1v40h-1zM59 74h57v1h-57zM174 50h1v24h-1z" fill="#c41a1a" opacity="0.8"/>
<path d="M11 73h44v1h-44zM178 73h44v1h-44z" fill="#a01010"/>
<path d="M11 74h44v1h-44zM178 74h44v1h-44z" fill="#f06a6a"/>
<rect x="61" y="51" width="111" height="21" fill="#fff" stroke="none"/>
<path d="M61 50h111v1h-111zM61 71h111v1h-111zM61 50h1v22h-1zM171 50h1v22h-1zM81 51h1v20h-1zM150 51h1v20h-1z" fill="#a9a9a9"/>
<rect x="62" y="51" width="19" height="20" fill="url(#bt)"/>
<rect x="151" y="51" width="20" height="20" fill="url(#bt)"/>
<path d="M69 59h5v1h-5zM70 60h3v1h-3zM71 61h1v1h-1z" fill="#5468c8"/>
<path d="M160 59h1v1h-1zM159 60h3v1h-3zM158 61h5v1h-5z" fill="#5468c8"/>
</g>
<!-- tab bar -->
<rect x="0" y="575" width="1350" height="19" fill="#f0f0f0"/>
<rect x="0" y="574" width="1352" height="1" fill="#000"/>
<rect x="0" y="575" width="1" height="18" fill="#000"/>
<rect x="0" y="594" width="1352" height="1" fill="#fff"/>
<rect x="0" y="595" width="1352" height="3" fill="#f3f3f3"/>
<rect x="0" y="598" width="1350" height="1" fill="#a0a0a0"/>
<rect x="0" y="599" width="1352" height="1" fill="#fafafa"/>
<rect x="1350" y="575" width="1" height="19" fill="#e3e3e3"/>
<rect x="1351" y="575" width="1" height="19" fill="#fff"/>
<rect x="98" y="574" width="90" height="18" fill="#fff"/>
<path d="M97 574h1v19h-1zM188 574h1v19h-1zM97 592h92v1h-92z" fill="#000"/>
<rect x="96" y="575" width="1" height="18" fill="#fff"/>
<path d="M277 577h1v14h-1zM369 577h1v14h-1zM461 577h1v14h-1zM545 577h1v14h-1zM637 577h1v14h-1zM753 577h1v14h-1zM829 577h1v14h-1z" fill="#6e6e6e"/>
<path d="M1323 580v6.400l-3.200 -3.200zM1339 580v6.400l3.200 -3.200z" fill="#a0a0a0" shape-rendering="auto"/>
<g shape-rendering="auto" text-rendering="auto">
<text x="70.62" y="18" font-size="10" fill="#303030" stroke="#303030" stroke-width="0.15" letter-spacing="0.100">M1</text>
<text x="98.83" y="18" font-size="10" fill="#303030" stroke="#303030" stroke-width="0.15" letter-spacing="-0.025">M5</text>
<text x="124.72" y="18" font-size="10" fill="#303030" stroke="#303030" stroke-width="0.15" letter-spacing="-0.362">M15</text>
<text x="152.62" y="18" font-size="10" fill="#303030" stroke="#303030" stroke-width="0.15" letter-spacing="-0.325">M30</text>
<text x="183.82" y="18" font-size="10" fill="#303030" stroke="#303030" stroke-width="0.15" letter-spacing="-0.275">H1</text>
<text x="210.72" y="18" font-size="10" fill="#303030" stroke="#303030" stroke-width="0.15" letter-spacing="0.775">H4</text>
<text x="239.93" y="18" font-size="10" fill="#303030" stroke="#303030" stroke-width="0.15" letter-spacing="-0.075">D1</text>
<text x="267.77" y="18" font-size="10" fill="#303030" stroke="#303030" stroke-width="0.15" letter-spacing="-0.275">W1</text>
<text x="293.73" y="18" font-size="10" fill="#303030" stroke="#303030" stroke-width="0.15" letter-spacing="0.725">MN</text>
<text x="20.00" y="42" font-size="9.9" stroke="#000" stroke-width="0.25" letter-spacing="-0.281">AUDUSD,H4</text>
<text x="80.83" y="42" font-size="9.9" stroke="#000" stroke-width="0.25" letter-spacing="-0.346">0.71887</text>
<text x="117.12" y="42" font-size="9.9" stroke="#000" stroke-width="0.25" letter-spacing="-0.479">0.71925</text>
<text x="153.12" y="42" font-size="9.9" stroke="#000" stroke-width="0.25" letter-spacing="-0.496">0.71886</text>
<text x="189.03" y="42" font-size="9.9" stroke="#000" stroke-width="0.25" letter-spacing="-0.479">0.71922</text>
<text x="7.65" y="416" font-size="9.9" stroke="#000" stroke-width="0.25" letter-spacing="-0.337">RSI(14)</text>
<text x="42.92" y="416" font-size="9.9" stroke="#000" stroke-width="0.25" letter-spacing="-0.379">50.4895</text>
<text x="1312.72" y="39" font-size="9.9" stroke="#000" stroke-width="0.25" letter-spacing="-0.383">0.74080</text>
<text x="1312.72" y="72" font-size="9.9" stroke="#000" stroke-width="0.25" letter-spacing="-0.383">0.73720</text>
<text x="1312.72" y="105" font-size="9.9" stroke="#000" stroke-width="0.25" letter-spacing="-0.383">0.73360</text>
<text x="1312.72" y="138" font-size="9.9" stroke="#000" stroke-width="0.25" letter-spacing="-0.383">0.73000</text>
<text x="1312.72" y="171" font-size="9.9" stroke="#000" stroke-width="0.25" letter-spacing="-0.383">0.72640</text>
<text x="1312.72" y="204" font-size="9.9" stroke="#000" stroke-width="0.25" letter-spacing="-0.383">0.72280</text>
<text x="1312.72" y="270" font-size="9.9" stroke="#000" stroke-width="0.25" letter-spacing="-0.383">0.71560</text>
<text x="1312.72" y="303" font-size="9.9" stroke="#000" stroke-width="0.25" letter-spacing="-0.383">0.71210</text>
<text x="1312.72" y="336" font-size="9.9" stroke="#000" stroke-width="0.25" letter-spacing="-0.383">0.70850</text>
<text x="1312.72" y="369" font-size="9.9" stroke="#000" stroke-width="0.25" letter-spacing="-0.383">0.70490</text>
<text x="1312.72" y="402" font-size="9.9" stroke="#000" stroke-width="0.25" letter-spacing="-0.383">0.70130</text>
<text x="1312.62" y="237" font-size="9.9" fill="#fff" letter-spacing="-0.312">0.71922</text>
<text x="1310.85" y="414" font-size="9.9" stroke="#000" stroke-width="0.25" letter-spacing="-0.537">100</text>
<text x="1310.90" y="452" font-size="9.9" stroke="#000" stroke-width="0.25" letter-spacing="-0.325">70</text>
<text x="1311.03" y="511" font-size="9.9" stroke="#000" stroke-width="0.25" letter-spacing="-0.450">30</text>
<text x="1311.03" y="548" font-size="9.9" stroke="#000" stroke-width="0.25" letter-spacing="0.000">0</text>
<text x="2.85" y="564" font-size="9.9" stroke="#000" stroke-width="0.25" letter-spacing="-0.263">19 Oct 2018</text>
<text x="67.10" y="564" font-size="9.9" stroke="#000" stroke-width="0.25" letter-spacing="-0.211">24 Oct 00:00</text>
<text x="131.10" y="564" font-size="9.9" stroke="#000" stroke-width="0.25" letter-spacing="-0.211">26 Oct 18:00</text>
<text x="195.22" y="564" font-size="9.9" stroke="#000" stroke-width="0.25" letter-spacing="-0.223">31 Oct 10:00</text>
<text x="259.23" y="564" font-size="9.9" stroke="#000" stroke-width="0.25" letter-spacing="-0.130">3 Nov 00:00</text>
<text x="323.10" y="564" font-size="9.9" stroke="#000" stroke-width="0.25" letter-spacing="-0.118">7 Nov 19:00</text>
<text x="386.85" y="564" font-size="9.9" stroke="#000" stroke-width="0.25" letter-spacing="-0.080">12 Nov 11:00</text>
<text x="450.85" y="564" font-size="9.9" stroke="#000" stroke-width="0.25" letter-spacing="-0.148">15 Nov 00:00</text>
<text x="514.85" y="564" font-size="9.9" stroke="#000" stroke-width="0.25" letter-spacing="-0.148">19 Nov 19:00</text>
<text x="579.10" y="564" font-size="9.9" stroke="#000" stroke-width="0.25" letter-spacing="-0.102">22 Nov 11:00</text>
<text x="643.10" y="564" font-size="9.9" stroke="#000" stroke-width="0.25" letter-spacing="-0.170">27 Nov 00:00</text>
<text x="707.10" y="564" font-size="9.9" stroke="#000" stroke-width="0.25" letter-spacing="-0.170">29 Nov 19:00</text>
<text x="771.35" y="564" font-size="9.9" stroke="#000" stroke-width="0.25" letter-spacing="-0.287">4 Dec 11:00</text>
<text x="835.10" y="564" font-size="9.9" stroke="#000" stroke-width="0.25" letter-spacing="-0.338">7 Dec 00:00</text>
<text x="898.85" y="564" font-size="9.9" stroke="#000" stroke-width="0.25" letter-spacing="-0.261">11 Dec 19:00</text>
<text x="962.85" y="564" font-size="9.9" stroke="#000" stroke-width="0.25" letter-spacing="-0.261">14 Dec 11:00</text>
<text x="1026.85" y="564" font-size="9.9" stroke="#000" stroke-width="0.25" letter-spacing="-0.330">19 Dec 00:00</text>
<text x="16.60" y="589" font-size="12.2" fill="#727272" stroke="#727272" stroke-width="0.25" letter-spacing="-0.178">EURUSD,H4</text>
<text x="108.70" y="589" font-size="12.2" stroke="#000" stroke-width="0.25" letter-spacing="-0.166">AUDUSD,H4</text>
<text x="198.80" y="589" font-size="12.2" fill="#727272" stroke="#727272" stroke-width="0.25" letter-spacing="-0.163">USDCHF,H4</text>
<text x="287.50" y="589" font-size="12.2" fill="#727272" stroke="#727272" stroke-width="0.25" letter-spacing="-0.066">USDCAD,H4</text>
<text x="378.60" y="589" font-size="12.2" fill="#727272" stroke="#727272" stroke-width="0.25" letter-spacing="0.044">USDCNH,H4</text>
<text x="470.80" y="589" font-size="12.2" fill="#727272" stroke="#727272" stroke-width="0.25" letter-spacing="-0.297">USDJPY,H1</text>
<text x="555.83" y="589" font-size="12.2" fill="#727272" stroke="#727272" stroke-width="0.25" letter-spacing="-0.131">XAUUSD,H1</text>
<text x="647.77" y="589" font-size="12.2" fill="#727272" stroke="#727272" stroke-width="0.25" letter-spacing="-0.056">GBPUSD,Weekly</text>
<text x="763.88" y="589" font-size="12.2" fill="#727272" stroke="#727272" stroke-width="0.25" letter-spacing="-0.239">SP500,H1</text>
<text x="18.77" y="65.7" font-size="11.8" fill="#fff" letter-spacing="-0.925">SELL</text>
<text x="186.50" y="65.7" font-size="11.8" fill="#fff" letter-spacing="-0.300">BUY</text>
<text x="123.30" y="65.1" font-size="12" stroke="#000" stroke-width="0.25" letter-spacing="0.208">3.00</text>
<text x="26.30" y="104.7" font-size="12" font-weight="bold" fill="#fff" letter-spacing="0.533">0.71</text>
<text x="136.60" y="104.7" font-size="12" font-weight="bold" fill="#fff" letter-spacing="0.400">0.71</text>
<text x="53.27" y="104.7" font-size="35" fill="#fff" stroke="url(#rg)" stroke-width="0.75" letter-spacing="-1.600">92</text>
<text x="164.18" y="104.7" font-size="35" fill="#fff" stroke="url(#rg)" stroke-width="0.75" letter-spacing="-1.950">94</text>
<text x="93.62" y="88.9" font-size="10.8" font-weight="bold" fill="#fff" letter-spacing="0.000">2</text>
<text x="204.82" y="88.9" font-size="10.8" font-weight="bold" fill="#fff" letter-spacing="0.000">2</text>
</g>
</svg>
</body></html>
